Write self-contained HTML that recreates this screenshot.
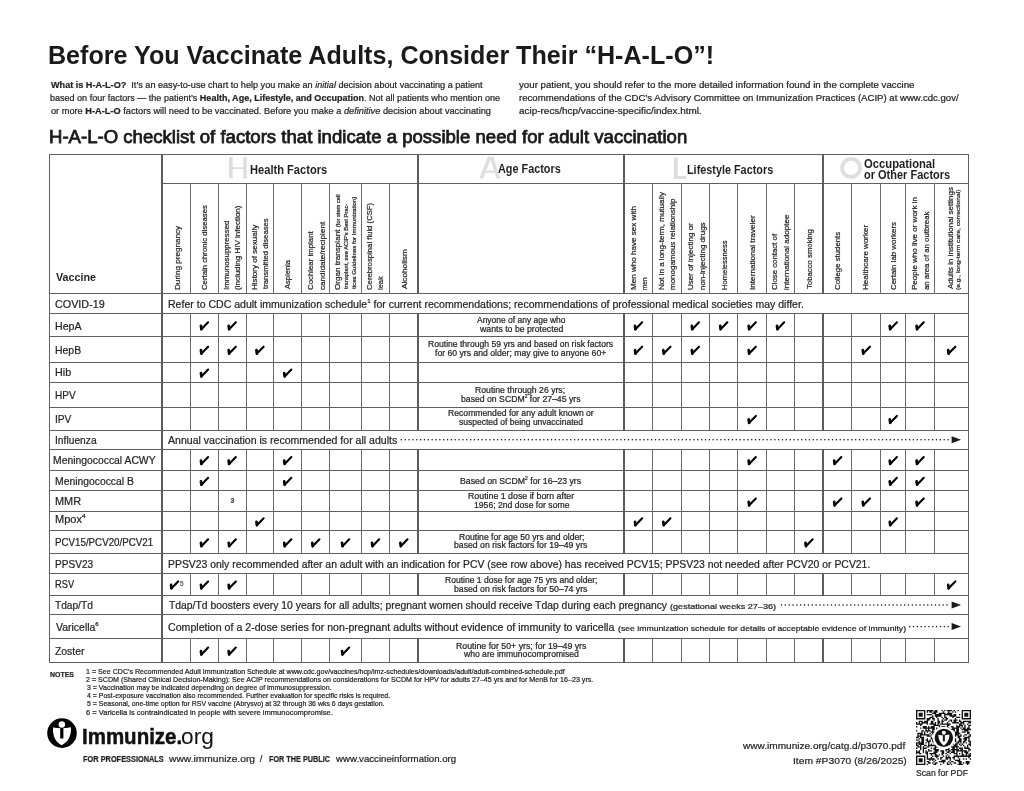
<!DOCTYPE html><html><head><meta charset="utf-8"><title>H-A-L-O</title><style>
*{margin:0;padding:0;box-sizing:border-box}
html,body{width:1024px;height:791px;overflow:hidden;background:#fff}
body{position:relative;font-family:"Liberation Sans",sans-serif;color:#231f20}
.t{position:absolute;white-space:nowrap;transform-origin:0 0}
.t sup{font-size:58%;line-height:0;vertical-align:0;position:relative;top:-0.82em}
.l{position:absolute}
.s{-webkit-text-stroke:0.22px currentColor}
#pg{position:absolute;left:0;top:0;width:1024px;height:791px;filter:blur(0.35px)}
.c{position:absolute;overflow:visible}
.ov{position:absolute;left:0;top:0}
.dots{position:absolute;height:1px;background-image:linear-gradient(90deg,#333 0,#333 1.2px,transparent 1.2px);background-size:3.85px 1px}
</style></head><body><div id="pg">
<svg width="0" height="0" style="position:absolute"><defs>
<g id="ck" fill="none" stroke="#000" stroke-linecap="round" stroke-linejoin="round"><path d="M1.65 5.0 L2.1 8.4" stroke-width="2.7"/><path d="M2.1 8.4 L8.8 1.5" stroke-width="2.1"/></g>
</defs></svg>
<div class="l" style="left:49px;top:154px;width:920px;height:1px;background:#5f5f5f"></div>
<div class="l" style="left:162px;top:183px;width:807px;height:1px;background:#5f5f5f"></div>
<div class="l" style="left:49px;top:293px;width:920px;height:1px;background:#5f5f5f"></div>
<div class="l" style="left:49px;top:313px;width:920px;height:1px;background:#5f5f5f"></div>
<div class="l" style="left:49px;top:336px;width:920px;height:1px;background:#5f5f5f"></div>
<div class="l" style="left:49px;top:362px;width:920px;height:1px;background:#5f5f5f"></div>
<div class="l" style="left:49px;top:382px;width:920px;height:1px;background:#5f5f5f"></div>
<div class="l" style="left:49px;top:407px;width:920px;height:1px;background:#5f5f5f"></div>
<div class="l" style="left:49px;top:430px;width:920px;height:1px;background:#5f5f5f"></div>
<div class="l" style="left:49px;top:449px;width:920px;height:1px;background:#5f5f5f"></div>
<div class="l" style="left:49px;top:470px;width:920px;height:1px;background:#5f5f5f"></div>
<div class="l" style="left:49px;top:490px;width:920px;height:1px;background:#5f5f5f"></div>
<div class="l" style="left:49px;top:511px;width:920px;height:1px;background:#5f5f5f"></div>
<div class="l" style="left:49px;top:530px;width:920px;height:1px;background:#5f5f5f"></div>
<div class="l" style="left:49px;top:553px;width:920px;height:1px;background:#5f5f5f"></div>
<div class="l" style="left:49px;top:573px;width:920px;height:1px;background:#5f5f5f"></div>
<div class="l" style="left:49px;top:595px;width:920px;height:1px;background:#5f5f5f"></div>
<div class="l" style="left:49px;top:614px;width:920px;height:1px;background:#5f5f5f"></div>
<div class="l" style="left:49px;top:638px;width:920px;height:1px;background:#5f5f5f"></div>
<div class="l" style="left:49px;top:662px;width:920px;height:1px;background:#5f5f5f"></div>
<div class="l" style="left:49px;top:154px;width:1px;height:509px;background:#626262"></div>
<div class="l" style="left:968px;top:154px;width:1px;height:509px;background:#5e5e5e"></div>
<div class="l" style="left:161px;top:154px;width:2px;height:509px;background:#5c5c5c"></div>
<div class="l" style="left:417px;top:154px;width:2px;height:140px;background:#5c5c5c"></div>
<div class="l" style="left:417px;top:313px;width:2px;height:24px;background:#5c5c5c"></div>
<div class="l" style="left:417px;top:336px;width:2px;height:27px;background:#5c5c5c"></div>
<div class="l" style="left:417px;top:362px;width:2px;height:21px;background:#5c5c5c"></div>
<div class="l" style="left:417px;top:382px;width:2px;height:26px;background:#5c5c5c"></div>
<div class="l" style="left:417px;top:407px;width:2px;height:24px;background:#5c5c5c"></div>
<div class="l" style="left:417px;top:449px;width:2px;height:22px;background:#5c5c5c"></div>
<div class="l" style="left:417px;top:470px;width:2px;height:21px;background:#5c5c5c"></div>
<div class="l" style="left:417px;top:490px;width:2px;height:22px;background:#5c5c5c"></div>
<div class="l" style="left:417px;top:511px;width:2px;height:20px;background:#5c5c5c"></div>
<div class="l" style="left:417px;top:530px;width:2px;height:24px;background:#5c5c5c"></div>
<div class="l" style="left:417px;top:573px;width:2px;height:23px;background:#5c5c5c"></div>
<div class="l" style="left:417px;top:638px;width:2px;height:25px;background:#5c5c5c"></div>
<div class="l" style="left:623px;top:154px;width:2px;height:140px;background:#5c5c5c"></div>
<div class="l" style="left:623px;top:313px;width:2px;height:24px;background:#5c5c5c"></div>
<div class="l" style="left:623px;top:336px;width:2px;height:27px;background:#5c5c5c"></div>
<div class="l" style="left:623px;top:362px;width:2px;height:21px;background:#5c5c5c"></div>
<div class="l" style="left:623px;top:382px;width:2px;height:26px;background:#5c5c5c"></div>
<div class="l" style="left:623px;top:407px;width:2px;height:24px;background:#5c5c5c"></div>
<div class="l" style="left:623px;top:449px;width:2px;height:22px;background:#5c5c5c"></div>
<div class="l" style="left:623px;top:470px;width:2px;height:21px;background:#5c5c5c"></div>
<div class="l" style="left:623px;top:490px;width:2px;height:22px;background:#5c5c5c"></div>
<div class="l" style="left:623px;top:511px;width:2px;height:20px;background:#5c5c5c"></div>
<div class="l" style="left:623px;top:530px;width:2px;height:24px;background:#5c5c5c"></div>
<div class="l" style="left:623px;top:573px;width:2px;height:23px;background:#5c5c5c"></div>
<div class="l" style="left:623px;top:638px;width:2px;height:25px;background:#5c5c5c"></div>
<div class="l" style="left:822px;top:154px;width:2px;height:140px;background:#5c5c5c"></div>
<div class="l" style="left:822px;top:313px;width:2px;height:24px;background:#5c5c5c"></div>
<div class="l" style="left:822px;top:336px;width:2px;height:27px;background:#5c5c5c"></div>
<div class="l" style="left:822px;top:362px;width:2px;height:21px;background:#5c5c5c"></div>
<div class="l" style="left:822px;top:382px;width:2px;height:26px;background:#5c5c5c"></div>
<div class="l" style="left:822px;top:407px;width:2px;height:24px;background:#5c5c5c"></div>
<div class="l" style="left:822px;top:449px;width:2px;height:22px;background:#5c5c5c"></div>
<div class="l" style="left:822px;top:470px;width:2px;height:21px;background:#5c5c5c"></div>
<div class="l" style="left:822px;top:490px;width:2px;height:22px;background:#5c5c5c"></div>
<div class="l" style="left:822px;top:511px;width:2px;height:20px;background:#5c5c5c"></div>
<div class="l" style="left:822px;top:530px;width:2px;height:24px;background:#5c5c5c"></div>
<div class="l" style="left:822px;top:573px;width:2px;height:23px;background:#5c5c5c"></div>
<div class="l" style="left:822px;top:638px;width:2px;height:25px;background:#5c5c5c"></div>
<div class="l" style="left:190px;top:183px;width:1px;height:111px;background:#6b6b6b"></div>
<div class="l" style="left:190px;top:313px;width:1px;height:24px;background:#6b6b6b"></div>
<div class="l" style="left:190px;top:336px;width:1px;height:27px;background:#6b6b6b"></div>
<div class="l" style="left:190px;top:362px;width:1px;height:21px;background:#6b6b6b"></div>
<div class="l" style="left:190px;top:382px;width:1px;height:26px;background:#6b6b6b"></div>
<div class="l" style="left:190px;top:407px;width:1px;height:24px;background:#6b6b6b"></div>
<div class="l" style="left:190px;top:449px;width:1px;height:22px;background:#6b6b6b"></div>
<div class="l" style="left:190px;top:470px;width:1px;height:21px;background:#6b6b6b"></div>
<div class="l" style="left:190px;top:490px;width:1px;height:22px;background:#6b6b6b"></div>
<div class="l" style="left:190px;top:511px;width:1px;height:20px;background:#6b6b6b"></div>
<div class="l" style="left:190px;top:530px;width:1px;height:24px;background:#6b6b6b"></div>
<div class="l" style="left:190px;top:573px;width:1px;height:23px;background:#6b6b6b"></div>
<div class="l" style="left:190px;top:638px;width:1px;height:25px;background:#6b6b6b"></div>
<div class="l" style="left:218px;top:183px;width:1px;height:111px;background:#6b6b6b"></div>
<div class="l" style="left:218px;top:313px;width:1px;height:24px;background:#6b6b6b"></div>
<div class="l" style="left:218px;top:336px;width:1px;height:27px;background:#6b6b6b"></div>
<div class="l" style="left:218px;top:362px;width:1px;height:21px;background:#6b6b6b"></div>
<div class="l" style="left:218px;top:382px;width:1px;height:26px;background:#6b6b6b"></div>
<div class="l" style="left:218px;top:407px;width:1px;height:24px;background:#6b6b6b"></div>
<div class="l" style="left:218px;top:449px;width:1px;height:22px;background:#6b6b6b"></div>
<div class="l" style="left:218px;top:470px;width:1px;height:21px;background:#6b6b6b"></div>
<div class="l" style="left:218px;top:490px;width:1px;height:22px;background:#6b6b6b"></div>
<div class="l" style="left:218px;top:511px;width:1px;height:20px;background:#6b6b6b"></div>
<div class="l" style="left:218px;top:530px;width:1px;height:24px;background:#6b6b6b"></div>
<div class="l" style="left:218px;top:573px;width:1px;height:23px;background:#6b6b6b"></div>
<div class="l" style="left:218px;top:638px;width:1px;height:25px;background:#6b6b6b"></div>
<div class="l" style="left:246px;top:183px;width:1px;height:111px;background:#6b6b6b"></div>
<div class="l" style="left:246px;top:313px;width:1px;height:24px;background:#6b6b6b"></div>
<div class="l" style="left:246px;top:336px;width:1px;height:27px;background:#6b6b6b"></div>
<div class="l" style="left:246px;top:362px;width:1px;height:21px;background:#6b6b6b"></div>
<div class="l" style="left:246px;top:382px;width:1px;height:26px;background:#6b6b6b"></div>
<div class="l" style="left:246px;top:407px;width:1px;height:24px;background:#6b6b6b"></div>
<div class="l" style="left:246px;top:449px;width:1px;height:22px;background:#6b6b6b"></div>
<div class="l" style="left:246px;top:470px;width:1px;height:21px;background:#6b6b6b"></div>
<div class="l" style="left:246px;top:490px;width:1px;height:22px;background:#6b6b6b"></div>
<div class="l" style="left:246px;top:511px;width:1px;height:20px;background:#6b6b6b"></div>
<div class="l" style="left:246px;top:530px;width:1px;height:24px;background:#6b6b6b"></div>
<div class="l" style="left:246px;top:573px;width:1px;height:23px;background:#6b6b6b"></div>
<div class="l" style="left:246px;top:638px;width:1px;height:25px;background:#6b6b6b"></div>
<div class="l" style="left:273px;top:183px;width:1px;height:111px;background:#6b6b6b"></div>
<div class="l" style="left:273px;top:313px;width:1px;height:24px;background:#6b6b6b"></div>
<div class="l" style="left:273px;top:336px;width:1px;height:27px;background:#6b6b6b"></div>
<div class="l" style="left:273px;top:362px;width:1px;height:21px;background:#6b6b6b"></div>
<div class="l" style="left:273px;top:382px;width:1px;height:26px;background:#6b6b6b"></div>
<div class="l" style="left:273px;top:407px;width:1px;height:24px;background:#6b6b6b"></div>
<div class="l" style="left:273px;top:449px;width:1px;height:22px;background:#6b6b6b"></div>
<div class="l" style="left:273px;top:470px;width:1px;height:21px;background:#6b6b6b"></div>
<div class="l" style="left:273px;top:490px;width:1px;height:22px;background:#6b6b6b"></div>
<div class="l" style="left:273px;top:511px;width:1px;height:20px;background:#6b6b6b"></div>
<div class="l" style="left:273px;top:530px;width:1px;height:24px;background:#6b6b6b"></div>
<div class="l" style="left:273px;top:573px;width:1px;height:23px;background:#6b6b6b"></div>
<div class="l" style="left:273px;top:638px;width:1px;height:25px;background:#6b6b6b"></div>
<div class="l" style="left:301px;top:183px;width:1px;height:111px;background:#6b6b6b"></div>
<div class="l" style="left:301px;top:313px;width:1px;height:24px;background:#6b6b6b"></div>
<div class="l" style="left:301px;top:336px;width:1px;height:27px;background:#6b6b6b"></div>
<div class="l" style="left:301px;top:362px;width:1px;height:21px;background:#6b6b6b"></div>
<div class="l" style="left:301px;top:382px;width:1px;height:26px;background:#6b6b6b"></div>
<div class="l" style="left:301px;top:407px;width:1px;height:24px;background:#6b6b6b"></div>
<div class="l" style="left:301px;top:449px;width:1px;height:22px;background:#6b6b6b"></div>
<div class="l" style="left:301px;top:470px;width:1px;height:21px;background:#6b6b6b"></div>
<div class="l" style="left:301px;top:490px;width:1px;height:22px;background:#6b6b6b"></div>
<div class="l" style="left:301px;top:511px;width:1px;height:20px;background:#6b6b6b"></div>
<div class="l" style="left:301px;top:530px;width:1px;height:24px;background:#6b6b6b"></div>
<div class="l" style="left:301px;top:573px;width:1px;height:23px;background:#6b6b6b"></div>
<div class="l" style="left:301px;top:638px;width:1px;height:25px;background:#6b6b6b"></div>
<div class="l" style="left:329px;top:183px;width:1px;height:111px;background:#6b6b6b"></div>
<div class="l" style="left:329px;top:313px;width:1px;height:24px;background:#6b6b6b"></div>
<div class="l" style="left:329px;top:336px;width:1px;height:27px;background:#6b6b6b"></div>
<div class="l" style="left:329px;top:362px;width:1px;height:21px;background:#6b6b6b"></div>
<div class="l" style="left:329px;top:382px;width:1px;height:26px;background:#6b6b6b"></div>
<div class="l" style="left:329px;top:407px;width:1px;height:24px;background:#6b6b6b"></div>
<div class="l" style="left:329px;top:449px;width:1px;height:22px;background:#6b6b6b"></div>
<div class="l" style="left:329px;top:470px;width:1px;height:21px;background:#6b6b6b"></div>
<div class="l" style="left:329px;top:490px;width:1px;height:22px;background:#6b6b6b"></div>
<div class="l" style="left:329px;top:511px;width:1px;height:20px;background:#6b6b6b"></div>
<div class="l" style="left:329px;top:530px;width:1px;height:24px;background:#6b6b6b"></div>
<div class="l" style="left:329px;top:573px;width:1px;height:23px;background:#6b6b6b"></div>
<div class="l" style="left:329px;top:638px;width:1px;height:25px;background:#6b6b6b"></div>
<div class="l" style="left:361px;top:183px;width:1px;height:111px;background:#6b6b6b"></div>
<div class="l" style="left:361px;top:313px;width:1px;height:24px;background:#6b6b6b"></div>
<div class="l" style="left:361px;top:336px;width:1px;height:27px;background:#6b6b6b"></div>
<div class="l" style="left:361px;top:362px;width:1px;height:21px;background:#6b6b6b"></div>
<div class="l" style="left:361px;top:382px;width:1px;height:26px;background:#6b6b6b"></div>
<div class="l" style="left:361px;top:407px;width:1px;height:24px;background:#6b6b6b"></div>
<div class="l" style="left:361px;top:449px;width:1px;height:22px;background:#6b6b6b"></div>
<div class="l" style="left:361px;top:470px;width:1px;height:21px;background:#6b6b6b"></div>
<div class="l" style="left:361px;top:490px;width:1px;height:22px;background:#6b6b6b"></div>
<div class="l" style="left:361px;top:511px;width:1px;height:20px;background:#6b6b6b"></div>
<div class="l" style="left:361px;top:530px;width:1px;height:24px;background:#6b6b6b"></div>
<div class="l" style="left:361px;top:573px;width:1px;height:23px;background:#6b6b6b"></div>
<div class="l" style="left:361px;top:638px;width:1px;height:25px;background:#6b6b6b"></div>
<div class="l" style="left:389px;top:183px;width:1px;height:111px;background:#6b6b6b"></div>
<div class="l" style="left:389px;top:313px;width:1px;height:24px;background:#6b6b6b"></div>
<div class="l" style="left:389px;top:336px;width:1px;height:27px;background:#6b6b6b"></div>
<div class="l" style="left:389px;top:362px;width:1px;height:21px;background:#6b6b6b"></div>
<div class="l" style="left:389px;top:382px;width:1px;height:26px;background:#6b6b6b"></div>
<div class="l" style="left:389px;top:407px;width:1px;height:24px;background:#6b6b6b"></div>
<div class="l" style="left:389px;top:449px;width:1px;height:22px;background:#6b6b6b"></div>
<div class="l" style="left:389px;top:470px;width:1px;height:21px;background:#6b6b6b"></div>
<div class="l" style="left:389px;top:490px;width:1px;height:22px;background:#6b6b6b"></div>
<div class="l" style="left:389px;top:511px;width:1px;height:20px;background:#6b6b6b"></div>
<div class="l" style="left:389px;top:530px;width:1px;height:24px;background:#6b6b6b"></div>
<div class="l" style="left:389px;top:573px;width:1px;height:23px;background:#6b6b6b"></div>
<div class="l" style="left:389px;top:638px;width:1px;height:25px;background:#6b6b6b"></div>
<div class="l" style="left:652px;top:183px;width:1px;height:111px;background:#6b6b6b"></div>
<div class="l" style="left:652px;top:313px;width:1px;height:24px;background:#6b6b6b"></div>
<div class="l" style="left:652px;top:336px;width:1px;height:27px;background:#6b6b6b"></div>
<div class="l" style="left:652px;top:362px;width:1px;height:21px;background:#6b6b6b"></div>
<div class="l" style="left:652px;top:382px;width:1px;height:26px;background:#6b6b6b"></div>
<div class="l" style="left:652px;top:407px;width:1px;height:24px;background:#6b6b6b"></div>
<div class="l" style="left:652px;top:449px;width:1px;height:22px;background:#6b6b6b"></div>
<div class="l" style="left:652px;top:470px;width:1px;height:21px;background:#6b6b6b"></div>
<div class="l" style="left:652px;top:490px;width:1px;height:22px;background:#6b6b6b"></div>
<div class="l" style="left:652px;top:511px;width:1px;height:20px;background:#6b6b6b"></div>
<div class="l" style="left:652px;top:530px;width:1px;height:24px;background:#6b6b6b"></div>
<div class="l" style="left:652px;top:573px;width:1px;height:23px;background:#6b6b6b"></div>
<div class="l" style="left:652px;top:638px;width:1px;height:25px;background:#6b6b6b"></div>
<div class="l" style="left:681px;top:183px;width:1px;height:111px;background:#6b6b6b"></div>
<div class="l" style="left:681px;top:313px;width:1px;height:24px;background:#6b6b6b"></div>
<div class="l" style="left:681px;top:336px;width:1px;height:27px;background:#6b6b6b"></div>
<div class="l" style="left:681px;top:362px;width:1px;height:21px;background:#6b6b6b"></div>
<div class="l" style="left:681px;top:382px;width:1px;height:26px;background:#6b6b6b"></div>
<div class="l" style="left:681px;top:407px;width:1px;height:24px;background:#6b6b6b"></div>
<div class="l" style="left:681px;top:449px;width:1px;height:22px;background:#6b6b6b"></div>
<div class="l" style="left:681px;top:470px;width:1px;height:21px;background:#6b6b6b"></div>
<div class="l" style="left:681px;top:490px;width:1px;height:22px;background:#6b6b6b"></div>
<div class="l" style="left:681px;top:511px;width:1px;height:20px;background:#6b6b6b"></div>
<div class="l" style="left:681px;top:530px;width:1px;height:24px;background:#6b6b6b"></div>
<div class="l" style="left:681px;top:573px;width:1px;height:23px;background:#6b6b6b"></div>
<div class="l" style="left:681px;top:638px;width:1px;height:25px;background:#6b6b6b"></div>
<div class="l" style="left:709px;top:183px;width:1px;height:111px;background:#6b6b6b"></div>
<div class="l" style="left:709px;top:313px;width:1px;height:24px;background:#6b6b6b"></div>
<div class="l" style="left:709px;top:336px;width:1px;height:27px;background:#6b6b6b"></div>
<div class="l" style="left:709px;top:362px;width:1px;height:21px;background:#6b6b6b"></div>
<div class="l" style="left:709px;top:382px;width:1px;height:26px;background:#6b6b6b"></div>
<div class="l" style="left:709px;top:407px;width:1px;height:24px;background:#6b6b6b"></div>
<div class="l" style="left:709px;top:449px;width:1px;height:22px;background:#6b6b6b"></div>
<div class="l" style="left:709px;top:470px;width:1px;height:21px;background:#6b6b6b"></div>
<div class="l" style="left:709px;top:490px;width:1px;height:22px;background:#6b6b6b"></div>
<div class="l" style="left:709px;top:511px;width:1px;height:20px;background:#6b6b6b"></div>
<div class="l" style="left:709px;top:530px;width:1px;height:24px;background:#6b6b6b"></div>
<div class="l" style="left:709px;top:573px;width:1px;height:23px;background:#6b6b6b"></div>
<div class="l" style="left:709px;top:638px;width:1px;height:25px;background:#6b6b6b"></div>
<div class="l" style="left:737px;top:183px;width:1px;height:111px;background:#6b6b6b"></div>
<div class="l" style="left:737px;top:313px;width:1px;height:24px;background:#6b6b6b"></div>
<div class="l" style="left:737px;top:336px;width:1px;height:27px;background:#6b6b6b"></div>
<div class="l" style="left:737px;top:362px;width:1px;height:21px;background:#6b6b6b"></div>
<div class="l" style="left:737px;top:382px;width:1px;height:26px;background:#6b6b6b"></div>
<div class="l" style="left:737px;top:407px;width:1px;height:24px;background:#6b6b6b"></div>
<div class="l" style="left:737px;top:449px;width:1px;height:22px;background:#6b6b6b"></div>
<div class="l" style="left:737px;top:470px;width:1px;height:21px;background:#6b6b6b"></div>
<div class="l" style="left:737px;top:490px;width:1px;height:22px;background:#6b6b6b"></div>
<div class="l" style="left:737px;top:511px;width:1px;height:20px;background:#6b6b6b"></div>
<div class="l" style="left:737px;top:530px;width:1px;height:24px;background:#6b6b6b"></div>
<div class="l" style="left:737px;top:573px;width:1px;height:23px;background:#6b6b6b"></div>
<div class="l" style="left:737px;top:638px;width:1px;height:25px;background:#6b6b6b"></div>
<div class="l" style="left:766px;top:183px;width:1px;height:111px;background:#6b6b6b"></div>
<div class="l" style="left:766px;top:313px;width:1px;height:24px;background:#6b6b6b"></div>
<div class="l" style="left:766px;top:336px;width:1px;height:27px;background:#6b6b6b"></div>
<div class="l" style="left:766px;top:362px;width:1px;height:21px;background:#6b6b6b"></div>
<div class="l" style="left:766px;top:382px;width:1px;height:26px;background:#6b6b6b"></div>
<div class="l" style="left:766px;top:407px;width:1px;height:24px;background:#6b6b6b"></div>
<div class="l" style="left:766px;top:449px;width:1px;height:22px;background:#6b6b6b"></div>
<div class="l" style="left:766px;top:470px;width:1px;height:21px;background:#6b6b6b"></div>
<div class="l" style="left:766px;top:490px;width:1px;height:22px;background:#6b6b6b"></div>
<div class="l" style="left:766px;top:511px;width:1px;height:20px;background:#6b6b6b"></div>
<div class="l" style="left:766px;top:530px;width:1px;height:24px;background:#6b6b6b"></div>
<div class="l" style="left:766px;top:573px;width:1px;height:23px;background:#6b6b6b"></div>
<div class="l" style="left:766px;top:638px;width:1px;height:25px;background:#6b6b6b"></div>
<div class="l" style="left:794px;top:183px;width:1px;height:111px;background:#6b6b6b"></div>
<div class="l" style="left:794px;top:313px;width:1px;height:24px;background:#6b6b6b"></div>
<div class="l" style="left:794px;top:336px;width:1px;height:27px;background:#6b6b6b"></div>
<div class="l" style="left:794px;top:362px;width:1px;height:21px;background:#6b6b6b"></div>
<div class="l" style="left:794px;top:382px;width:1px;height:26px;background:#6b6b6b"></div>
<div class="l" style="left:794px;top:407px;width:1px;height:24px;background:#6b6b6b"></div>
<div class="l" style="left:794px;top:449px;width:1px;height:22px;background:#6b6b6b"></div>
<div class="l" style="left:794px;top:470px;width:1px;height:21px;background:#6b6b6b"></div>
<div class="l" style="left:794px;top:490px;width:1px;height:22px;background:#6b6b6b"></div>
<div class="l" style="left:794px;top:511px;width:1px;height:20px;background:#6b6b6b"></div>
<div class="l" style="left:794px;top:530px;width:1px;height:24px;background:#6b6b6b"></div>
<div class="l" style="left:794px;top:573px;width:1px;height:23px;background:#6b6b6b"></div>
<div class="l" style="left:794px;top:638px;width:1px;height:25px;background:#6b6b6b"></div>
<div class="l" style="left:851px;top:183px;width:1px;height:111px;background:#6b6b6b"></div>
<div class="l" style="left:851px;top:313px;width:1px;height:24px;background:#6b6b6b"></div>
<div class="l" style="left:851px;top:336px;width:1px;height:27px;background:#6b6b6b"></div>
<div class="l" style="left:851px;top:362px;width:1px;height:21px;background:#6b6b6b"></div>
<div class="l" style="left:851px;top:382px;width:1px;height:26px;background:#6b6b6b"></div>
<div class="l" style="left:851px;top:407px;width:1px;height:24px;background:#6b6b6b"></div>
<div class="l" style="left:851px;top:449px;width:1px;height:22px;background:#6b6b6b"></div>
<div class="l" style="left:851px;top:470px;width:1px;height:21px;background:#6b6b6b"></div>
<div class="l" style="left:851px;top:490px;width:1px;height:22px;background:#6b6b6b"></div>
<div class="l" style="left:851px;top:511px;width:1px;height:20px;background:#6b6b6b"></div>
<div class="l" style="left:851px;top:530px;width:1px;height:24px;background:#6b6b6b"></div>
<div class="l" style="left:851px;top:573px;width:1px;height:23px;background:#6b6b6b"></div>
<div class="l" style="left:851px;top:638px;width:1px;height:25px;background:#6b6b6b"></div>
<div class="l" style="left:880px;top:183px;width:1px;height:111px;background:#6b6b6b"></div>
<div class="l" style="left:880px;top:313px;width:1px;height:24px;background:#6b6b6b"></div>
<div class="l" style="left:880px;top:336px;width:1px;height:27px;background:#6b6b6b"></div>
<div class="l" style="left:880px;top:362px;width:1px;height:21px;background:#6b6b6b"></div>
<div class="l" style="left:880px;top:382px;width:1px;height:26px;background:#6b6b6b"></div>
<div class="l" style="left:880px;top:407px;width:1px;height:24px;background:#6b6b6b"></div>
<div class="l" style="left:880px;top:449px;width:1px;height:22px;background:#6b6b6b"></div>
<div class="l" style="left:880px;top:470px;width:1px;height:21px;background:#6b6b6b"></div>
<div class="l" style="left:880px;top:490px;width:1px;height:22px;background:#6b6b6b"></div>
<div class="l" style="left:880px;top:511px;width:1px;height:20px;background:#6b6b6b"></div>
<div class="l" style="left:880px;top:530px;width:1px;height:24px;background:#6b6b6b"></div>
<div class="l" style="left:880px;top:573px;width:1px;height:23px;background:#6b6b6b"></div>
<div class="l" style="left:880px;top:638px;width:1px;height:25px;background:#6b6b6b"></div>
<div class="l" style="left:905px;top:183px;width:1px;height:111px;background:#6b6b6b"></div>
<div class="l" style="left:905px;top:313px;width:1px;height:24px;background:#6b6b6b"></div>
<div class="l" style="left:905px;top:336px;width:1px;height:27px;background:#6b6b6b"></div>
<div class="l" style="left:905px;top:362px;width:1px;height:21px;background:#6b6b6b"></div>
<div class="l" style="left:905px;top:382px;width:1px;height:26px;background:#6b6b6b"></div>
<div class="l" style="left:905px;top:407px;width:1px;height:24px;background:#6b6b6b"></div>
<div class="l" style="left:905px;top:449px;width:1px;height:22px;background:#6b6b6b"></div>
<div class="l" style="left:905px;top:470px;width:1px;height:21px;background:#6b6b6b"></div>
<div class="l" style="left:905px;top:490px;width:1px;height:22px;background:#6b6b6b"></div>
<div class="l" style="left:905px;top:511px;width:1px;height:20px;background:#6b6b6b"></div>
<div class="l" style="left:905px;top:530px;width:1px;height:24px;background:#6b6b6b"></div>
<div class="l" style="left:905px;top:573px;width:1px;height:23px;background:#6b6b6b"></div>
<div class="l" style="left:905px;top:638px;width:1px;height:25px;background:#6b6b6b"></div>
<div class="l" style="left:934px;top:183px;width:1px;height:111px;background:#6b6b6b"></div>
<div class="l" style="left:934px;top:313px;width:1px;height:24px;background:#6b6b6b"></div>
<div class="l" style="left:934px;top:336px;width:1px;height:27px;background:#6b6b6b"></div>
<div class="l" style="left:934px;top:362px;width:1px;height:21px;background:#6b6b6b"></div>
<div class="l" style="left:934px;top:382px;width:1px;height:26px;background:#6b6b6b"></div>
<div class="l" style="left:934px;top:407px;width:1px;height:24px;background:#6b6b6b"></div>
<div class="l" style="left:934px;top:449px;width:1px;height:22px;background:#6b6b6b"></div>
<div class="l" style="left:934px;top:470px;width:1px;height:21px;background:#6b6b6b"></div>
<div class="l" style="left:934px;top:490px;width:1px;height:22px;background:#6b6b6b"></div>
<div class="l" style="left:934px;top:511px;width:1px;height:20px;background:#6b6b6b"></div>
<div class="l" style="left:934px;top:530px;width:1px;height:24px;background:#6b6b6b"></div>
<div class="l" style="left:934px;top:573px;width:1px;height:23px;background:#6b6b6b"></div>
<div class="l" style="left:934px;top:638px;width:1px;height:25px;background:#6b6b6b"></div>
<svg class="ov" width="1024" height="791" viewBox="0 0 1024 791"><g fill="#dedede">
<path d="M229 157h3.7v10.3h10.6v-10.3h3.5v21.4h-3.5v-9.5h-10.6v9.5h-3.7z"/>
<path fill-rule="evenodd" d="M479.3 178.6L487.9 156.8L493.3 156.8L500.3 178.6L496.6 178.6L494.7 172.7L485.4 172.7L483.1 178.6Z M486.25 170.6L490.5 159.7L494.0 170.6Z"/>
<path d="M673.8 157.2h4v18.9h8.4v2.9h-12.4z"/>
</g><circle cx="851.1" cy="167.9" r="8.95" fill="none" stroke="#dedede" stroke-width="3.8"/></svg>
<div class="t" id="t0" style="font-size:26.4px;line-height:26.4px;font-weight:bold;color:#1a1a1a;left:47.92px;top:42px;transform:scaleX(0.9510);">Before You Vaccinate Adults, Consider Their &ldquo;H-A-L-O&rdquo;!</div>
<div class="t s" id="t1" style="font-size:9px;line-height:9px;left:50.89px;top:81px;transform:scaleX(1.0106);"><b>What is H-A-L-O?</b>&nbsp; It&rsquo;s an easy-to-use chart to help you make an <i>initial</i> decision about vaccinating a patient</div>
<div class="t s" id="t2" style="font-size:9px;line-height:9px;left:50.42px;top:94px;transform:scaleX(1.0028);">based on four factors &mdash; the patient&rsquo;s <b>Health, Age, Lifestyle, and Occupation</b>. Not all patients who mention one</div>
<div class="t s" id="t3" style="font-size:9px;line-height:9px;left:50.51px;top:107px;transform:scaleX(1.0238);">or more <b>H-A-L-O</b> factors will need to be vaccinated. Before you make a <i>definitive</i> decision about vaccinating</div>
<div class="t s" id="t4" style="font-size:9px;line-height:9px;left:519.48px;top:81px;transform:scaleX(1.0769);">your patient, you should refer to the more detailed information found in the complete vaccine</div>
<div class="t s" id="t5" style="font-size:9px;line-height:9px;left:518.86px;top:94px;transform:scaleX(1.0658);">recommendations of the CDC&rsquo;s Advisory Committee on Immunization Practices (ACIP) at www.cdc.gov/</div>
<div class="t s" id="t6" style="font-size:9px;line-height:9px;left:519.08px;top:107px;transform:scaleX(1.1042);">acip-recs/hcp/vaccine-specific/index.html.</div>
<div class="t" id="t7" style="font-size:17.6px;line-height:17.6px;color:#1a1a1a;left:48.68px;top:129px;transform:scaleX(1.0560);-webkit-text-stroke:0.75px #1a1a1a;">H-A-L-O checklist of factors that indicate a possible need for adult vaccination</div>
<div class="t" id="t8" style="font-size:12.4px;line-height:12.4px;font-weight:bold;left:249.86px;top:164px;transform:scaleX(0.8969);">Health Factors</div>
<div class="t" id="t9" style="font-size:12.4px;line-height:12.4px;font-weight:bold;left:498.03px;top:163px;transform:scaleX(0.8758);">Age Factors</div>
<div class="t" id="t10" style="font-size:12.4px;line-height:12.4px;font-weight:bold;left:687.47px;top:164px;transform:scaleX(0.8750);">Lifestyle Factors</div>
<div class="t" id="t11" style="font-size:12.4px;line-height:12.4px;font-weight:bold;left:864.14px;top:158px;transform:scaleX(0.9078);">Occupational</div>
<div class="t" id="t12" style="font-size:12.4px;line-height:12.4px;font-weight:bold;left:864.17px;top:169px;transform:scaleX(0.8876);">or Other Factors</div>
<div class="t" id="t13" style="font-size:11.6px;line-height:11.6px;font-weight:bold;left:55.53px;top:271px;transform:scaleX(0.9271);">Vaccine</div>
<div class="t s" id="t14" style="font-size:7.9px;line-height:7.9px;left:173.51px;top:289.97px;transform:rotate(-90deg) scaleX(1.0287);">During pregnancy</div>
<div class="t s" id="t15" style="font-size:7.9px;line-height:7.9px;left:200.91px;top:289.69px;transform:rotate(-90deg) scaleX(0.9823);">Certain chronic diseases</div>
<div class="t s" id="t16" style="font-size:7.9px;line-height:7.9px;left:222.71px;top:290.03px;transform:rotate(-90deg) scaleX(1.0018);">Immunosuppressed</div>
<div class="t s" id="t17" style="font-size:7.9px;line-height:7.9px;left:233.91px;top:289.8px;transform:rotate(-90deg) scaleX(1.0138);">(including HIV infection)</div>
<div class="t s" id="t18" style="font-size:7.9px;line-height:7.9px;left:250.91px;top:289.96px;transform:rotate(-90deg) scaleX(1.0210);">History of sexually</div>
<div class="t s" id="t19" style="font-size:7.9px;line-height:7.9px;left:262.31px;top:289.42px;transform:rotate(-90deg) scaleX(0.9768);">transmitted diseases</div>
<div class="t s" id="t20" style="font-size:7.9px;line-height:7.9px;left:284.21px;top:289.31px;transform:rotate(-90deg) scaleX(0.9582);">Asplenia</div>
<div class="t s" id="t21" style="font-size:7.9px;line-height:7.9px;left:306.91px;top:289.7px;transform:rotate(-90deg) scaleX(0.9922);">Cochlear implant</div>
<div class="t s" id="t22" style="font-size:7.9px;line-height:7.9px;left:318.61px;top:289.65px;transform:rotate(-90deg) scaleX(1.0295);">candidate/recipient</div>
<div class="t s" id="t23" style="font-size:7.9px;line-height:7.9px;left:334.21px;top:289.68px;transform:rotate(-90deg) scaleX(1.0284);">Organ transplant <span style="font-size:5.6px">(for stem cell</span></div>
<div class="t s" id="t24" style="font-size:5.6px;line-height:5.6px;left:343.86px;top:289.39px;transform:rotate(-90deg) scaleX(1.0319);">transplant, see ACIP&rsquo;s Best Prac-</div>
<div class="t s" id="t25" style="font-size:5.6px;line-height:5.6px;left:352.16px;top:289.39px;transform:rotate(-90deg) scaleX(1.0962);">tices Guidelines for Immunization)</div>
<div class="t s" id="t26" style="font-size:7.9px;line-height:7.9px;left:365.51px;top:289.69px;transform:rotate(-90deg) scaleX(0.9791);">Cerebrospinal fluid (CSF)</div>
<div class="t s" id="t27" style="font-size:7.9px;line-height:7.9px;left:376.71px;top:289.81px;transform:rotate(-90deg) scaleX(0.9525);">leak</div>
<div class="t s" id="t28" style="font-size:7.9px;line-height:7.9px;left:401.41px;top:289.32px;transform:rotate(-90deg) scaleX(1.0420);">Alcoholism</div>
<div class="t s" id="t29" style="font-size:7.9px;line-height:7.9px;left:629.61px;top:289.96px;transform:rotate(-90deg) scaleX(1.0241);">Men who have sex with</div>
<div class="t s" id="t30" style="font-size:7.9px;line-height:7.9px;left:640.71px;top:289.73px;transform:rotate(-90deg) scaleX(0.8169);">men</div>
<div class="t s" id="t31" style="font-size:7.9px;line-height:7.9px;left:658.41px;top:289.96px;transform:rotate(-90deg) scaleX(1.0165);">Not in a long-term, mutually</div>
<div class="t s" id="t32" style="font-size:7.9px;line-height:7.9px;left:669.21px;top:289.83px;transform:rotate(-90deg) scaleX(1.0111);">monogamous relationship</div>
<div class="t s" id="t33" style="font-size:7.9px;line-height:7.9px;left:687.31px;top:289.92px;transform:rotate(-90deg) scaleX(1.0160);">User of injecting or</div>
<div class="t s" id="t34" style="font-size:7.9px;line-height:7.9px;left:699.11px;top:289.83px;transform:rotate(-90deg) scaleX(1.0140);">non-injecting drugs</div>
<div class="t s" id="t35" style="font-size:7.9px;line-height:7.9px;left:721.41px;top:289.92px;transform:rotate(-90deg) scaleX(0.9584);">Homelessness</div>
<div class="t s" id="t36" style="font-size:7.9px;line-height:7.9px;left:748.81px;top:290.06px;transform:rotate(-90deg) scaleX(1.0383);">International traveler</div>
<div class="t s" id="t37" style="font-size:7.9px;line-height:7.9px;left:771.01px;top:289.7px;transform:rotate(-90deg) scaleX(0.9910);">Close contact of</div>
<div class="t s" id="t38" style="font-size:7.9px;line-height:7.9px;left:782.81px;top:289.84px;transform:rotate(-90deg) scaleX(1.0228);">international adoptee</div>
<div class="t s" id="t39" style="font-size:7.9px;line-height:7.9px;left:805.81px;top:289.47px;transform:rotate(-90deg) scaleX(0.9820);">Tobacco smoking</div>
<div class="t s" id="t40" style="font-size:7.9px;line-height:7.9px;left:834.31px;top:289.7px;transform:rotate(-90deg) scaleX(0.9898);">College students</div>
<div class="t s" id="t41" style="font-size:7.9px;line-height:7.9px;left:861.81px;top:289.96px;transform:rotate(-90deg) scaleX(1.0181);">Healthcare worker</div>
<div class="t s" id="t42" style="font-size:7.9px;line-height:7.9px;left:890.21px;top:289.7px;transform:rotate(-90deg);">Certain lab workers</div>
<div class="t s" id="t43" style="font-size:7.9px;line-height:7.9px;left:910.71px;top:289.96px;transform:rotate(-90deg) scaleX(1.0142);">People who live or work in</div>
<div class="t s" id="t44" style="font-size:7.9px;line-height:7.9px;left:922.51px;top:289.63px;transform:rotate(-90deg) scaleX(0.9876);">an area of an outbreak</div>
<div class="t s" id="t45" style="font-size:7.9px;line-height:7.9px;left:947.01px;top:289.32px;transform:rotate(-90deg) scaleX(1.0057);">Adults in institutional settings</div>
<div class="t s" id="t46" style="font-size:6px;line-height:6px;left:955.42px;top:289.71px;transform:rotate(-90deg) scaleX(1.1112);">(e.g., long-term care, correctional)</div>
<div class="t s" id="t47" style="font-size:10.6px;line-height:10.6px;left:55.05px;top:299px;transform:scaleX(1.0181);">COVID-19</div>
<div class="t s" id="t48" style="font-size:10.6px;line-height:10.6px;left:54.73px;top:321px;transform:scaleX(1.0035);">HepA</div>
<div class="t s" id="t49" style="font-size:10.6px;line-height:10.6px;left:54.74px;top:345px;transform:scaleX(0.9852);">HepB</div>
<div class="t s" id="t50" style="font-size:10.6px;line-height:10.6px;left:54.72px;top:367px;transform:scaleX(1.0143);">Hib</div>
<div class="t s" id="t51" style="font-size:10.6px;line-height:10.6px;left:54.78px;top:390px;transform:scaleX(0.9482);">HPV</div>
<div class="t s" id="t52" style="font-size:10.6px;line-height:10.6px;left:54.66px;top:414px;transform:scaleX(0.9593);">IPV</div>
<div class="t s" id="t53" style="font-size:10.6px;line-height:10.6px;left:54.65px;top:435px;transform:scaleX(0.9685);">Influenza</div>
<div class="t s" id="t54" style="font-size:10.6px;line-height:10.6px;left:53.25px;top:455px;transform:scaleX(0.9787);">Meningococcal ACWY</div>
<div class="t s" id="t55" style="font-size:10.6px;line-height:10.6px;left:54.95px;top:476px;transform:scaleX(0.9778);">Meningococcal B</div>
<div class="t s" id="t56" style="font-size:10.6px;line-height:10.6px;left:54.9px;top:496px;transform:scaleX(1.0313);">MMR</div>
<div class="t s" id="t57" style="font-size:10.6px;line-height:10.6px;left:54.9px;top:514px;transform:scaleX(1.0408);">Mpox<sup>4</sup></div>
<div class="t s" id="t58" style="font-size:10.6px;line-height:10.6px;left:54.6px;top:537px;transform:scaleX(0.9201);">PCV15/PCV20/PCV21</div>
<div class="t s" id="t59" style="font-size:10.6px;line-height:10.6px;left:54.77px;top:559px;transform:scaleX(0.9528);">PPSV23</div>
<div class="t s" id="t60" style="font-size:10.6px;line-height:10.6px;left:54.83px;top:579px;transform:scaleX(0.8812);">RSV</div>
<div class="t s" id="t61" style="font-size:10.6px;line-height:10.6px;left:55.37px;top:600px;transform:scaleX(0.9576);">Tdap/Td</div>
<div class="t s" id="t62" style="font-size:10.6px;line-height:10.6px;left:55.55px;top:622px;transform:scaleX(0.9880);">Varicella<sup>6</sup></div>
<div class="t s" id="t63" style="font-size:10.6px;line-height:10.6px;left:55.27px;top:646px;transform:scaleX(0.9790);">Zoster</div>
<div class="t s" id="t64" style="font-size:10.6px;line-height:10.6px;left:167.93px;top:299px;transform:scaleX(0.9948);">Refer to CDC adult immunization schedule<sup>1</sup> for current recommendations; recommendations of professional medical societies may differ.</div>
<div class="t s" id="t65" style="font-size:10.6px;line-height:10.6px;left:168.48px;top:435px;transform:scaleX(0.9954);">Annual vaccination is recommended for all adults</div>
<div class="t s" id="t66" style="font-size:10.6px;line-height:10.6px;left:168.05px;top:559px;transform:scaleX(0.9824);">PPSV23 only recommended after an adult with an indication for PCV (see row above) has received PCV15; PPSV23 not needed after PCV20 or PCV21.</div>
<div class="t s" id="t67" style="font-size:10.6px;line-height:10.6px;left:168.67px;top:600px;transform:scaleX(0.9781);">Tdap/Td boosters every 10 years for all adults; pregnant women should receive Tdap during each pregnancy</div>
<div class="t s" id="t68" style="font-size:7.6px;line-height:7.6px;left:669.94px;top:603px;transform:scaleX(1.1971);">(gestational weeks 27&ndash;36)</div>
<div class="t s" id="t69" style="font-size:10.6px;line-height:10.6px;left:168.36px;top:622px;transform:scaleX(1.0013);">Completion of a 2-dose series for non-pregnant adults without evidence of immunity to varicella</div>
<div class="t s" id="t70" style="font-size:7.6px;line-height:7.6px;left:617.66px;top:625px;transform:scaleX(1.1412);">(see immunization schedule for details of acceptable evidence of immunity)</div>
<div class="t s" id="t71" style="font-size:8.2px;line-height:8.2px;left:477.28px;top:317px;transform:scaleX(1.0338);">Anyone of any age who</div>
<div class="t s" id="t72" style="font-size:8.2px;line-height:8.2px;left:480.11px;top:326px;transform:scaleX(1.0645);">wants to be protected</div>
<div class="t s" id="t73" style="font-size:8.2px;line-height:8.2px;left:428.49px;top:341px;transform:scaleX(1.0483);">Routine through 59 yrs and based on risk factors</div>
<div class="t s" id="t74" style="font-size:8.2px;line-height:8.2px;left:435.48px;top:350px;transform:scaleX(1.0554);">for 60 yrs and older; may give to anyone 60+</div>
<div class="t s" id="t75" style="font-size:8.2px;line-height:8.2px;left:475.09px;top:387px;transform:scaleX(1.0585);">Routine through 26 yrs;</div>
<div class="t s" id="t76" style="font-size:8.2px;line-height:8.2px;left:461.34px;top:396px;transform:scaleX(1.0592);">based on SCDM<sup>2</sup> for 27&ndash;45 yrs</div>
<div class="t s" id="t77" style="font-size:8.2px;line-height:8.2px;left:447.79px;top:410px;transform:scaleX(1.0534);">Recommended for any adult known or</div>
<div class="t s" id="t78" style="font-size:8.2px;line-height:8.2px;left:459.06px;top:419px;transform:scaleX(1.0404);">suspected of being unvaccinated</div>
<div class="t s" id="t79" style="font-size:8.2px;line-height:8.2px;left:460.08px;top:478px;transform:scaleX(1.0653);">Based on SCDM<sup>2</sup> for 16&ndash;23 yrs</div>
<div class="t s" id="t80" style="font-size:8.2px;line-height:8.2px;left:467.98px;top:493px;transform:scaleX(1.0748);">Routine 1 dose if born after</div>
<div class="t s" id="t81" style="font-size:8.2px;line-height:8.2px;left:473.64px;top:502px;transform:scaleX(1.0535);">1956; 2nd dose for some</div>
<div class="t s" id="t82" style="font-size:8.2px;line-height:8.2px;left:458.59px;top:534px;transform:scaleX(1.0523);">Routine for age 50 yrs and older;</div>
<div class="t s" id="t83" style="font-size:8.2px;line-height:8.2px;left:454.44px;top:542px;transform:scaleX(1.0626);">based on risk factors for 19&ndash;49 yrs</div>
<div class="t s" id="t84" style="font-size:8.2px;line-height:8.2px;left:445px;top:577px;transform:scaleX(1.0428);">Routine 1 dose for age 75 yrs and older;</div>
<div class="t s" id="t85" style="font-size:8.2px;line-height:8.2px;left:454.44px;top:586px;transform:scaleX(1.0626);">based on risk factors for 50&ndash;74 yrs</div>
<div class="t s" id="t86" style="font-size:8.2px;line-height:8.2px;left:455.78px;top:643px;transform:scaleX(1.0714);">Routine for 50+ yrs; for 19&ndash;49 yrs</div>
<div class="t s" id="t87" style="font-size:8.2px;line-height:8.2px;left:464.01px;top:651px;transform:scaleX(1.0471);">who are immunocompromised</div>
<div class="t s" id="t88" style="font-size:6.8px;line-height:6.8px;font-weight:bold;color:#4a4a4a;left:230.45px;top:498px;">3</div>
<div class="t s" id="t89" style="font-size:6.4px;line-height:6.4px;color:#555;left:179.94px;top:581px;">5</div>
<div class="t s" id="t90" style="font-size:7px;line-height:7px;font-weight:bold;left:49.84px;top:671px;transform:scaleX(0.9922);">NOTES</div>
<div class="t s" id="t91" style="font-size:7.3px;line-height:7.3px;left:86.26px;top:668px;transform:scaleX(0.9729);">1 = See CDC&rsquo;s Recommended Adult Immunization Schedule at www.cdc.gov/vaccines/hcp/imz-schedules/downloads/adult/adult-combined-schedule.pdf</div>
<div class="t s" id="t92" style="font-size:7.3px;line-height:7.3px;left:86.44px;top:676px;transform:scaleX(0.9741);">2 = SCDM (Shared Clinical Decision-Making): See ACIP recommendations on considerations for SCDM for HPV for adults 27&ndash;45 yrs and for MenB for 16&ndash;23 yrs.</div>
<div class="t s" id="t93" style="font-size:7.3px;line-height:7.3px;left:86.53px;top:684px;transform:scaleX(0.9584);">3 = Vaccination may be indicated depending on degree of immunosuppression.</div>
<div class="t s" id="t94" style="font-size:7.3px;line-height:7.3px;left:86.64px;top:692px;transform:scaleX(0.9566);">4 = Post-exposure vaccination also recommended. Further evaluation for specific risks is required.</div>
<div class="t s" id="t95" style="font-size:7.3px;line-height:7.3px;left:86.52px;top:700px;transform:scaleX(0.9544);">5 = Seasonal, one-time option for RSV vaccine (Abrysvo) at 32 through 36 wks 6 days gestation.</div>
<div class="t s" id="t96" style="font-size:7.3px;line-height:7.3px;left:86.42px;top:709px;transform:scaleX(1.0327);">6 = Varicella is contraindicated in people with severe immunocompromise.</div>
<div class="t" id="t97" style="font-size:22.6px;line-height:22.6px;font-weight:bold;color:#111;left:82.03px;top:726px;transform:scaleX(0.9067);-webkit-text-stroke:0.5px #111;">Immunize.</div>
<div class="t" id="t98" style="font-size:22.6px;line-height:22.6px;color:#111;left:180.75px;top:726px;transform:scaleX(1.0049);">org</div>
<div class="t s" id="t99" style="font-size:8.3px;line-height:8.3px;font-weight:bold;left:82.51px;top:755px;transform:scaleX(0.8896);">FOR PROFESSIONALS</div>
<div class="t s" id="t100" style="font-size:9.4px;line-height:9.4px;left:169.02px;top:754px;transform:scaleX(1.0938);">www.immunize.org</div>
<div class="t s" id="t101" style="font-size:9.4px;line-height:9.4px;left:259.8px;top:754px;">/</div>
<div class="t s" id="t102" style="font-size:8.3px;line-height:8.3px;font-weight:bold;left:269.01px;top:755px;transform:scaleX(0.8761);">FOR THE PUBLIC</div>
<div class="t s" id="t103" style="font-size:9.4px;line-height:9.4px;left:335.91px;top:754px;transform:scaleX(1.0299);">www.vaccineinformation.org</div>
<div class="t s" id="t104" style="font-size:9.6px;line-height:9.6px;left:743.41px;top:741px;transform:scaleX(1.0492);">www.immunize.org/catg.d/p3070.pdf</div>
<div class="t s" id="t105" style="font-size:9.6px;line-height:9.6px;left:792.55px;top:756px;transform:scaleX(1.0720);">Item #P3070 (8/26/2025)</div>
<div class="t s" id="t106" style="font-size:9.6px;line-height:9.6px;left:916.11px;top:768px;transform:scaleX(0.9018);">Scan for PDF</div>
<svg class="ov" width="1024" height="791" viewBox="0 0 1024 791"><use href="#ck" x="199.3" y="320.8"/>
<use href="#ck" x="227.05" y="320.8"/>
<use href="#ck" x="633.35" y="320.8"/>
<use href="#ck" x="690.2" y="320.8"/>
<use href="#ck" x="718.55" y="320.8"/>
<use href="#ck" x="747.05" y="320.8"/>
<use href="#ck" x="775.35" y="320.8"/>
<use href="#ck" x="888.1" y="320.8"/>
<use href="#ck" x="914.95" y="320.8"/>
<use href="#ck" x="199.3" y="345.2"/>
<use href="#ck" x="227.05" y="345.2"/>
<use href="#ck" x="254.8" y="345.2"/>
<use href="#ck" x="633.35" y="345.2"/>
<use href="#ck" x="661.65" y="345.2"/>
<use href="#ck" x="690.2" y="345.2"/>
<use href="#ck" x="747.05" y="345.2"/>
<use href="#ck" x="861.15" y="345.2"/>
<use href="#ck" x="946.55" y="345.2"/>
<use href="#ck" x="199.3" y="368"/>
<use href="#ck" x="282.55" y="368"/>
<use href="#ck" x="747.05" y="414.45"/>
<use href="#ck" x="888.1" y="414.45"/>
<use href="#ck" x="199.3" y="455.55"/>
<use href="#ck" x="227.05" y="455.55"/>
<use href="#ck" x="282.55" y="455.55"/>
<use href="#ck" x="747.05" y="455.55"/>
<use href="#ck" x="832.55" y="455.55"/>
<use href="#ck" x="888.1" y="455.55"/>
<use href="#ck" x="914.95" y="455.55"/>
<use href="#ck" x="199.3" y="476.25"/>
<use href="#ck" x="282.55" y="476.25"/>
<use href="#ck" x="888.1" y="476.25"/>
<use href="#ck" x="914.95" y="476.25"/>
<use href="#ck" x="747.05" y="496.95"/>
<use href="#ck" x="832.55" y="496.95"/>
<use href="#ck" x="861.15" y="496.95"/>
<use href="#ck" x="914.95" y="496.95"/>
<use href="#ck" x="254.8" y="516.75"/>
<use href="#ck" x="633.35" y="516.75"/>
<use href="#ck" x="661.65" y="516.75"/>
<use href="#ck" x="888.1" y="516.75"/>
<use href="#ck" x="199.3" y="537.75"/>
<use href="#ck" x="227.05" y="537.75"/>
<use href="#ck" x="282.55" y="537.75"/>
<use href="#ck" x="310.6" y="537.75"/>
<use href="#ck" x="340.4" y="537.75"/>
<use href="#ck" x="370.35" y="537.75"/>
<use href="#ck" x="398.7" y="537.75"/>
<use href="#ck" x="803.85" y="537.75"/>
<use href="#ck" x="169.4" y="579.9"/>
<use href="#ck" x="199.3" y="579.9"/>
<use href="#ck" x="227.05" y="579.9"/>
<use href="#ck" x="946.55" y="579.9"/>
<use href="#ck" x="199.3" y="646.1"/>
<use href="#ck" x="227.05" y="646.1"/>
<use href="#ck" x="340.4" y="646.1"/><g fill="#1a1a1a"><rect x="400.7" y="439.05" width="1.3" height="1.3"/>
<rect x="404.55" y="439.05" width="1.3" height="1.3"/>
<rect x="408.4" y="439.05" width="1.3" height="1.3"/>
<rect x="412.25" y="439.05" width="1.3" height="1.3"/>
<rect x="416.1" y="439.05" width="1.3" height="1.3"/>
<rect x="419.95" y="439.05" width="1.3" height="1.3"/>
<rect x="423.8" y="439.05" width="1.3" height="1.3"/>
<rect x="427.65" y="439.05" width="1.3" height="1.3"/>
<rect x="431.5" y="439.05" width="1.3" height="1.3"/>
<rect x="435.35" y="439.05" width="1.3" height="1.3"/>
<rect x="439.2" y="439.05" width="1.3" height="1.3"/>
<rect x="443.05" y="439.05" width="1.3" height="1.3"/>
<rect x="446.9" y="439.05" width="1.3" height="1.3"/>
<rect x="450.75" y="439.05" width="1.3" height="1.3"/>
<rect x="454.6" y="439.05" width="1.3" height="1.3"/>
<rect x="458.45" y="439.05" width="1.3" height="1.3"/>
<rect x="462.3" y="439.05" width="1.3" height="1.3"/>
<rect x="466.15" y="439.05" width="1.3" height="1.3"/>
<rect x="470" y="439.05" width="1.3" height="1.3"/>
<rect x="473.85" y="439.05" width="1.3" height="1.3"/>
<rect x="477.7" y="439.05" width="1.3" height="1.3"/>
<rect x="481.55" y="439.05" width="1.3" height="1.3"/>
<rect x="485.4" y="439.05" width="1.3" height="1.3"/>
<rect x="489.25" y="439.05" width="1.3" height="1.3"/>
<rect x="493.1" y="439.05" width="1.3" height="1.3"/>
<rect x="496.95" y="439.05" width="1.3" height="1.3"/>
<rect x="500.8" y="439.05" width="1.3" height="1.3"/>
<rect x="504.65" y="439.05" width="1.3" height="1.3"/>
<rect x="508.5" y="439.05" width="1.3" height="1.3"/>
<rect x="512.35" y="439.05" width="1.3" height="1.3"/>
<rect x="516.2" y="439.05" width="1.3" height="1.3"/>
<rect x="520.05" y="439.05" width="1.3" height="1.3"/>
<rect x="523.9" y="439.05" width="1.3" height="1.3"/>
<rect x="527.75" y="439.05" width="1.3" height="1.3"/>
<rect x="531.6" y="439.05" width="1.3" height="1.3"/>
<rect x="535.45" y="439.05" width="1.3" height="1.3"/>
<rect x="539.3" y="439.05" width="1.3" height="1.3"/>
<rect x="543.15" y="439.05" width="1.3" height="1.3"/>
<rect x="547" y="439.05" width="1.3" height="1.3"/>
<rect x="550.85" y="439.05" width="1.3" height="1.3"/>
<rect x="554.7" y="439.05" width="1.3" height="1.3"/>
<rect x="558.55" y="439.05" width="1.3" height="1.3"/>
<rect x="562.4" y="439.05" width="1.3" height="1.3"/>
<rect x="566.25" y="439.05" width="1.3" height="1.3"/>
<rect x="570.1" y="439.05" width="1.3" height="1.3"/>
<rect x="573.95" y="439.05" width="1.3" height="1.3"/>
<rect x="577.8" y="439.05" width="1.3" height="1.3"/>
<rect x="581.65" y="439.05" width="1.3" height="1.3"/>
<rect x="585.5" y="439.05" width="1.3" height="1.3"/>
<rect x="589.35" y="439.05" width="1.3" height="1.3"/>
<rect x="593.2" y="439.05" width="1.3" height="1.3"/>
<rect x="597.05" y="439.05" width="1.3" height="1.3"/>
<rect x="600.9" y="439.05" width="1.3" height="1.3"/>
<rect x="604.75" y="439.05" width="1.3" height="1.3"/>
<rect x="608.6" y="439.05" width="1.3" height="1.3"/>
<rect x="612.45" y="439.05" width="1.3" height="1.3"/>
<rect x="616.3" y="439.05" width="1.3" height="1.3"/>
<rect x="620.15" y="439.05" width="1.3" height="1.3"/>
<rect x="624" y="439.05" width="1.3" height="1.3"/>
<rect x="627.85" y="439.05" width="1.3" height="1.3"/>
<rect x="631.7" y="439.05" width="1.3" height="1.3"/>
<rect x="635.55" y="439.05" width="1.3" height="1.3"/>
<rect x="639.4" y="439.05" width="1.3" height="1.3"/>
<rect x="643.25" y="439.05" width="1.3" height="1.3"/>
<rect x="647.1" y="439.05" width="1.3" height="1.3"/>
<rect x="650.95" y="439.05" width="1.3" height="1.3"/>
<rect x="654.8" y="439.05" width="1.3" height="1.3"/>
<rect x="658.65" y="439.05" width="1.3" height="1.3"/>
<rect x="662.5" y="439.05" width="1.3" height="1.3"/>
<rect x="666.35" y="439.05" width="1.3" height="1.3"/>
<rect x="670.2" y="439.05" width="1.3" height="1.3"/>
<rect x="674.05" y="439.05" width="1.3" height="1.3"/>
<rect x="677.9" y="439.05" width="1.3" height="1.3"/>
<rect x="681.75" y="439.05" width="1.3" height="1.3"/>
<rect x="685.6" y="439.05" width="1.3" height="1.3"/>
<rect x="689.45" y="439.05" width="1.3" height="1.3"/>
<rect x="693.3" y="439.05" width="1.3" height="1.3"/>
<rect x="697.15" y="439.05" width="1.3" height="1.3"/>
<rect x="701" y="439.05" width="1.3" height="1.3"/>
<rect x="704.85" y="439.05" width="1.3" height="1.3"/>
<rect x="708.7" y="439.05" width="1.3" height="1.3"/>
<rect x="712.55" y="439.05" width="1.3" height="1.3"/>
<rect x="716.4" y="439.05" width="1.3" height="1.3"/>
<rect x="720.25" y="439.05" width="1.3" height="1.3"/>
<rect x="724.1" y="439.05" width="1.3" height="1.3"/>
<rect x="727.95" y="439.05" width="1.3" height="1.3"/>
<rect x="731.8" y="439.05" width="1.3" height="1.3"/>
<rect x="735.65" y="439.05" width="1.3" height="1.3"/>
<rect x="739.5" y="439.05" width="1.3" height="1.3"/>
<rect x="743.35" y="439.05" width="1.3" height="1.3"/>
<rect x="747.2" y="439.05" width="1.3" height="1.3"/>
<rect x="751.05" y="439.05" width="1.3" height="1.3"/>
<rect x="754.9" y="439.05" width="1.3" height="1.3"/>
<rect x="758.75" y="439.05" width="1.3" height="1.3"/>
<rect x="762.6" y="439.05" width="1.3" height="1.3"/>
<rect x="766.45" y="439.05" width="1.3" height="1.3"/>
<rect x="770.3" y="439.05" width="1.3" height="1.3"/>
<rect x="774.15" y="439.05" width="1.3" height="1.3"/>
<rect x="778" y="439.05" width="1.3" height="1.3"/>
<rect x="781.85" y="439.05" width="1.3" height="1.3"/>
<rect x="785.7" y="439.05" width="1.3" height="1.3"/>
<rect x="789.55" y="439.05" width="1.3" height="1.3"/>
<rect x="793.4" y="439.05" width="1.3" height="1.3"/>
<rect x="797.25" y="439.05" width="1.3" height="1.3"/>
<rect x="801.1" y="439.05" width="1.3" height="1.3"/>
<rect x="804.95" y="439.05" width="1.3" height="1.3"/>
<rect x="808.8" y="439.05" width="1.3" height="1.3"/>
<rect x="812.65" y="439.05" width="1.3" height="1.3"/>
<rect x="816.5" y="439.05" width="1.3" height="1.3"/>
<rect x="820.35" y="439.05" width="1.3" height="1.3"/>
<rect x="824.2" y="439.05" width="1.3" height="1.3"/>
<rect x="828.05" y="439.05" width="1.3" height="1.3"/>
<rect x="831.9" y="439.05" width="1.3" height="1.3"/>
<rect x="835.75" y="439.05" width="1.3" height="1.3"/>
<rect x="839.6" y="439.05" width="1.3" height="1.3"/>
<rect x="843.45" y="439.05" width="1.3" height="1.3"/>
<rect x="847.3" y="439.05" width="1.3" height="1.3"/>
<rect x="851.15" y="439.05" width="1.3" height="1.3"/>
<rect x="855" y="439.05" width="1.3" height="1.3"/>
<rect x="858.85" y="439.05" width="1.3" height="1.3"/>
<rect x="862.7" y="439.05" width="1.3" height="1.3"/>
<rect x="866.55" y="439.05" width="1.3" height="1.3"/>
<rect x="870.4" y="439.05" width="1.3" height="1.3"/>
<rect x="874.25" y="439.05" width="1.3" height="1.3"/>
<rect x="878.1" y="439.05" width="1.3" height="1.3"/>
<rect x="881.95" y="439.05" width="1.3" height="1.3"/>
<rect x="885.8" y="439.05" width="1.3" height="1.3"/>
<rect x="889.65" y="439.05" width="1.3" height="1.3"/>
<rect x="893.5" y="439.05" width="1.3" height="1.3"/>
<rect x="897.35" y="439.05" width="1.3" height="1.3"/>
<rect x="901.2" y="439.05" width="1.3" height="1.3"/>
<rect x="905.05" y="439.05" width="1.3" height="1.3"/>
<rect x="908.9" y="439.05" width="1.3" height="1.3"/>
<rect x="912.75" y="439.05" width="1.3" height="1.3"/>
<rect x="916.6" y="439.05" width="1.3" height="1.3"/>
<rect x="920.45" y="439.05" width="1.3" height="1.3"/>
<rect x="924.3" y="439.05" width="1.3" height="1.3"/>
<rect x="928.15" y="439.05" width="1.3" height="1.3"/>
<rect x="932" y="439.05" width="1.3" height="1.3"/>
<rect x="935.85" y="439.05" width="1.3" height="1.3"/>
<rect x="939.7" y="439.05" width="1.3" height="1.3"/>
<rect x="943.55" y="439.05" width="1.3" height="1.3"/>
<rect x="947.4" y="439.05" width="1.3" height="1.3"/>
<path d="M951.6 436.2 L961 439.7 L951.6 443.2 Z"/>
<rect x="780.8" y="604.35" width="1.3" height="1.3"/>
<rect x="784.65" y="604.35" width="1.3" height="1.3"/>
<rect x="788.5" y="604.35" width="1.3" height="1.3"/>
<rect x="792.35" y="604.35" width="1.3" height="1.3"/>
<rect x="796.2" y="604.35" width="1.3" height="1.3"/>
<rect x="800.05" y="604.35" width="1.3" height="1.3"/>
<rect x="803.9" y="604.35" width="1.3" height="1.3"/>
<rect x="807.75" y="604.35" width="1.3" height="1.3"/>
<rect x="811.6" y="604.35" width="1.3" height="1.3"/>
<rect x="815.45" y="604.35" width="1.3" height="1.3"/>
<rect x="819.3" y="604.35" width="1.3" height="1.3"/>
<rect x="823.15" y="604.35" width="1.3" height="1.3"/>
<rect x="827" y="604.35" width="1.3" height="1.3"/>
<rect x="830.85" y="604.35" width="1.3" height="1.3"/>
<rect x="834.7" y="604.35" width="1.3" height="1.3"/>
<rect x="838.55" y="604.35" width="1.3" height="1.3"/>
<rect x="842.4" y="604.35" width="1.3" height="1.3"/>
<rect x="846.25" y="604.35" width="1.3" height="1.3"/>
<rect x="850.1" y="604.35" width="1.3" height="1.3"/>
<rect x="853.95" y="604.35" width="1.3" height="1.3"/>
<rect x="857.8" y="604.35" width="1.3" height="1.3"/>
<rect x="861.65" y="604.35" width="1.3" height="1.3"/>
<rect x="865.5" y="604.35" width="1.3" height="1.3"/>
<rect x="869.35" y="604.35" width="1.3" height="1.3"/>
<rect x="873.2" y="604.35" width="1.3" height="1.3"/>
<rect x="877.05" y="604.35" width="1.3" height="1.3"/>
<rect x="880.9" y="604.35" width="1.3" height="1.3"/>
<rect x="884.75" y="604.35" width="1.3" height="1.3"/>
<rect x="888.6" y="604.35" width="1.3" height="1.3"/>
<rect x="892.45" y="604.35" width="1.3" height="1.3"/>
<rect x="896.3" y="604.35" width="1.3" height="1.3"/>
<rect x="900.15" y="604.35" width="1.3" height="1.3"/>
<rect x="904" y="604.35" width="1.3" height="1.3"/>
<rect x="907.85" y="604.35" width="1.3" height="1.3"/>
<rect x="911.7" y="604.35" width="1.3" height="1.3"/>
<rect x="915.55" y="604.35" width="1.3" height="1.3"/>
<rect x="919.4" y="604.35" width="1.3" height="1.3"/>
<rect x="923.25" y="604.35" width="1.3" height="1.3"/>
<rect x="927.1" y="604.35" width="1.3" height="1.3"/>
<rect x="930.95" y="604.35" width="1.3" height="1.3"/>
<rect x="934.8" y="604.35" width="1.3" height="1.3"/>
<rect x="938.65" y="604.35" width="1.3" height="1.3"/>
<rect x="942.5" y="604.35" width="1.3" height="1.3"/>
<rect x="946.35" y="604.35" width="1.3" height="1.3"/>
<path d="M951.6 601.5 L961 605 L951.6 608.5 Z"/>
<rect x="909" y="625.95" width="1.3" height="1.3"/>
<rect x="912.85" y="625.95" width="1.3" height="1.3"/>
<rect x="916.7" y="625.95" width="1.3" height="1.3"/>
<rect x="920.55" y="625.95" width="1.3" height="1.3"/>
<rect x="924.4" y="625.95" width="1.3" height="1.3"/>
<rect x="928.25" y="625.95" width="1.3" height="1.3"/>
<rect x="932.1" y="625.95" width="1.3" height="1.3"/>
<rect x="935.95" y="625.95" width="1.3" height="1.3"/>
<rect x="939.8" y="625.95" width="1.3" height="1.3"/>
<rect x="943.65" y="625.95" width="1.3" height="1.3"/>
<rect x="947.5" y="625.95" width="1.3" height="1.3"/>
<path d="M951.6 623.1 L961 626.6 L951.6 630.1 Z"/></g></svg>

<svg class="c" style="left:44px;top:715px" width="36" height="36" viewBox="0 0 36 36">
<circle cx="18" cy="18.1" r="14.8" fill="#000"/>
<path d="M9.0 12.5 Q17.8 14.0 27.0 12.3 C27.3 21.5 24.2 26.8 17.75 30.3 C11.4 26.8 8.7 21.5 9.0 12.5 Z" fill="#fff"/>
<rect x="16.2" y="12" width="3.2" height="11.5" fill="#000"/>
<circle cx="17.85" cy="9.55" r="3.2" fill="#fff"/>
</svg>
<svg class="c" style="left:915.5px;top:709.9px" width="55" height="55" viewBox="0 0 54.9 54.9">
<path d="M0 0h1.34v1.34h-1.34zM1.34 0h1.34v1.34h-1.34zM2.68 0h1.34v1.34h-1.34zM4.02 0h1.34v1.34h-1.34zM5.36 0h1.34v1.34h-1.34zM6.7 0h1.34v1.34h-1.34zM8.03 0h1.34v1.34h-1.34zM10.71 0h1.34v1.34h-1.34zM12.05 0h1.34v1.34h-1.34zM13.39 0h1.34v1.34h-1.34zM14.73 0h1.34v1.34h-1.34zM16.07 0h1.34v1.34h-1.34zM18.75 0h1.34v1.34h-1.34zM20.09 0h1.34v1.34h-1.34zM25.44 0h1.34v1.34h-1.34zM28.12 0h1.34v1.34h-1.34zM30.8 0h1.34v1.34h-1.34zM32.14 0h1.34v1.34h-1.34zM33.48 0h1.34v1.34h-1.34zM34.81 0h1.34v1.34h-1.34zM37.49 0h1.34v1.34h-1.34zM41.51 0h1.34v1.34h-1.34zM45.53 0h1.34v1.34h-1.34zM46.87 0h1.34v1.34h-1.34zM48.2 0h1.34v1.34h-1.34zM49.54 0h1.34v1.34h-1.34zM50.88 0h1.34v1.34h-1.34zM52.22 0h1.34v1.34h-1.34zM53.56 0h1.34v1.34h-1.34zM0 1.34h1.34v1.34h-1.34zM8.03 1.34h1.34v1.34h-1.34zM10.71 1.34h1.34v1.34h-1.34zM13.39 1.34h1.34v1.34h-1.34zM14.73 1.34h1.34v1.34h-1.34zM17.41 1.34h1.34v1.34h-1.34zM18.75 1.34h1.34v1.34h-1.34zM20.09 1.34h1.34v1.34h-1.34zM26.78 1.34h1.34v1.34h-1.34zM32.14 1.34h1.34v1.34h-1.34zM36.15 1.34h1.34v1.34h-1.34zM38.83 1.34h1.34v1.34h-1.34zM45.53 1.34h1.34v1.34h-1.34zM53.56 1.34h1.34v1.34h-1.34zM0 2.68h1.34v1.34h-1.34zM2.68 2.68h1.34v1.34h-1.34zM4.02 2.68h1.34v1.34h-1.34zM5.36 2.68h1.34v1.34h-1.34zM8.03 2.68h1.34v1.34h-1.34zM16.07 2.68h1.34v1.34h-1.34zM17.41 2.68h1.34v1.34h-1.34zM18.75 2.68h1.34v1.34h-1.34zM22.76 2.68h1.34v1.34h-1.34zM24.1 2.68h1.34v1.34h-1.34zM25.44 2.68h1.34v1.34h-1.34zM26.78 2.68h1.34v1.34h-1.34zM28.12 2.68h1.34v1.34h-1.34zM30.8 2.68h1.34v1.34h-1.34zM32.14 2.68h1.34v1.34h-1.34zM33.48 2.68h1.34v1.34h-1.34zM34.81 2.68h1.34v1.34h-1.34zM45.53 2.68h1.34v1.34h-1.34zM48.2 2.68h1.34v1.34h-1.34zM49.54 2.68h1.34v1.34h-1.34zM50.88 2.68h1.34v1.34h-1.34zM53.56 2.68h1.34v1.34h-1.34zM0 4.02h1.34v1.34h-1.34zM2.68 4.02h1.34v1.34h-1.34zM4.02 4.02h1.34v1.34h-1.34zM5.36 4.02h1.34v1.34h-1.34zM8.03 4.02h1.34v1.34h-1.34zM10.71 4.02h1.34v1.34h-1.34zM12.05 4.02h1.34v1.34h-1.34zM13.39 4.02h1.34v1.34h-1.34zM14.73 4.02h1.34v1.34h-1.34zM18.75 4.02h1.34v1.34h-1.34zM20.09 4.02h1.34v1.34h-1.34zM21.42 4.02h1.34v1.34h-1.34zM22.76 4.02h1.34v1.34h-1.34zM24.1 4.02h1.34v1.34h-1.34zM28.12 4.02h1.34v1.34h-1.34zM29.46 4.02h1.34v1.34h-1.34zM30.8 4.02h1.34v1.34h-1.34zM32.14 4.02h1.34v1.34h-1.34zM33.48 4.02h1.34v1.34h-1.34zM34.81 4.02h1.34v1.34h-1.34zM37.49 4.02h1.34v1.34h-1.34zM38.83 4.02h1.34v1.34h-1.34zM42.85 4.02h1.34v1.34h-1.34zM45.53 4.02h1.34v1.34h-1.34zM48.2 4.02h1.34v1.34h-1.34zM49.54 4.02h1.34v1.34h-1.34zM50.88 4.02h1.34v1.34h-1.34zM53.56 4.02h1.34v1.34h-1.34zM0 5.36h1.34v1.34h-1.34zM2.68 5.36h1.34v1.34h-1.34zM4.02 5.36h1.34v1.34h-1.34zM5.36 5.36h1.34v1.34h-1.34zM8.03 5.36h1.34v1.34h-1.34zM16.07 5.36h1.34v1.34h-1.34zM18.75 5.36h1.34v1.34h-1.34zM20.09 5.36h1.34v1.34h-1.34zM21.42 5.36h1.34v1.34h-1.34zM22.76 5.36h1.34v1.34h-1.34zM24.1 5.36h1.34v1.34h-1.34zM28.12 5.36h1.34v1.34h-1.34zM33.48 5.36h1.34v1.34h-1.34zM34.81 5.36h1.34v1.34h-1.34zM36.15 5.36h1.34v1.34h-1.34zM37.49 5.36h1.34v1.34h-1.34zM38.83 5.36h1.34v1.34h-1.34zM45.53 5.36h1.34v1.34h-1.34zM48.2 5.36h1.34v1.34h-1.34zM49.54 5.36h1.34v1.34h-1.34zM50.88 5.36h1.34v1.34h-1.34zM53.56 5.36h1.34v1.34h-1.34zM0 6.7h1.34v1.34h-1.34zM8.03 6.7h1.34v1.34h-1.34zM13.39 6.7h1.34v1.34h-1.34zM14.73 6.7h1.34v1.34h-1.34zM16.07 6.7h1.34v1.34h-1.34zM20.09 6.7h1.34v1.34h-1.34zM25.44 6.7h1.34v1.34h-1.34zM28.12 6.7h1.34v1.34h-1.34zM29.46 6.7h1.34v1.34h-1.34zM36.15 6.7h1.34v1.34h-1.34zM40.17 6.7h1.34v1.34h-1.34zM41.51 6.7h1.34v1.34h-1.34zM42.85 6.7h1.34v1.34h-1.34zM45.53 6.7h1.34v1.34h-1.34zM53.56 6.7h1.34v1.34h-1.34zM0 8.03h1.34v1.34h-1.34zM1.34 8.03h1.34v1.34h-1.34zM2.68 8.03h1.34v1.34h-1.34zM4.02 8.03h1.34v1.34h-1.34zM5.36 8.03h1.34v1.34h-1.34zM6.7 8.03h1.34v1.34h-1.34zM8.03 8.03h1.34v1.34h-1.34zM10.71 8.03h1.34v1.34h-1.34zM12.05 8.03h1.34v1.34h-1.34zM13.39 8.03h1.34v1.34h-1.34zM16.07 8.03h1.34v1.34h-1.34zM17.41 8.03h1.34v1.34h-1.34zM21.42 8.03h1.34v1.34h-1.34zM26.78 8.03h1.34v1.34h-1.34zM29.46 8.03h1.34v1.34h-1.34zM30.8 8.03h1.34v1.34h-1.34zM38.83 8.03h1.34v1.34h-1.34zM45.53 8.03h1.34v1.34h-1.34zM46.87 8.03h1.34v1.34h-1.34zM48.2 8.03h1.34v1.34h-1.34zM49.54 8.03h1.34v1.34h-1.34zM50.88 8.03h1.34v1.34h-1.34zM52.22 8.03h1.34v1.34h-1.34zM53.56 8.03h1.34v1.34h-1.34zM10.71 9.37h1.34v1.34h-1.34zM12.05 9.37h1.34v1.34h-1.34zM17.41 9.37h1.34v1.34h-1.34zM21.42 9.37h1.34v1.34h-1.34zM25.44 9.37h1.34v1.34h-1.34zM28.12 9.37h1.34v1.34h-1.34zM29.46 9.37h1.34v1.34h-1.34zM33.48 9.37h1.34v1.34h-1.34zM34.81 9.37h1.34v1.34h-1.34zM37.49 9.37h1.34v1.34h-1.34zM38.83 9.37h1.34v1.34h-1.34zM40.17 9.37h1.34v1.34h-1.34zM42.85 9.37h1.34v1.34h-1.34zM2.68 10.71h1.34v1.34h-1.34zM4.02 10.71h1.34v1.34h-1.34zM5.36 10.71h1.34v1.34h-1.34zM8.03 10.71h1.34v1.34h-1.34zM9.37 10.71h1.34v1.34h-1.34zM10.71 10.71h1.34v1.34h-1.34zM14.73 10.71h1.34v1.34h-1.34zM16.07 10.71h1.34v1.34h-1.34zM21.42 10.71h1.34v1.34h-1.34zM22.76 10.71h1.34v1.34h-1.34zM25.44 10.71h1.34v1.34h-1.34zM26.78 10.71h1.34v1.34h-1.34zM32.14 10.71h1.34v1.34h-1.34zM34.81 10.71h1.34v1.34h-1.34zM37.49 10.71h1.34v1.34h-1.34zM38.83 10.71h1.34v1.34h-1.34zM42.85 10.71h1.34v1.34h-1.34zM44.19 10.71h1.34v1.34h-1.34zM46.87 10.71h1.34v1.34h-1.34zM48.2 10.71h1.34v1.34h-1.34zM49.54 10.71h1.34v1.34h-1.34zM50.88 10.71h1.34v1.34h-1.34zM52.22 10.71h1.34v1.34h-1.34zM53.56 10.71h1.34v1.34h-1.34zM0 12.05h1.34v1.34h-1.34zM2.68 12.05h1.34v1.34h-1.34zM5.36 12.05h1.34v1.34h-1.34zM6.7 12.05h1.34v1.34h-1.34zM8.03 12.05h1.34v1.34h-1.34zM9.37 12.05h1.34v1.34h-1.34zM10.71 12.05h1.34v1.34h-1.34zM14.73 12.05h1.34v1.34h-1.34zM16.07 12.05h1.34v1.34h-1.34zM18.75 12.05h1.34v1.34h-1.34zM21.42 12.05h1.34v1.34h-1.34zM22.76 12.05h1.34v1.34h-1.34zM25.44 12.05h1.34v1.34h-1.34zM30.8 12.05h1.34v1.34h-1.34zM36.15 12.05h1.34v1.34h-1.34zM37.49 12.05h1.34v1.34h-1.34zM38.83 12.05h1.34v1.34h-1.34zM40.17 12.05h1.34v1.34h-1.34zM41.51 12.05h1.34v1.34h-1.34zM44.19 12.05h1.34v1.34h-1.34zM45.53 12.05h1.34v1.34h-1.34zM46.87 12.05h1.34v1.34h-1.34zM52.22 12.05h1.34v1.34h-1.34zM53.56 12.05h1.34v1.34h-1.34zM0 13.39h1.34v1.34h-1.34zM1.34 13.39h1.34v1.34h-1.34zM2.68 13.39h1.34v1.34h-1.34zM4.02 13.39h1.34v1.34h-1.34zM5.36 13.39h1.34v1.34h-1.34zM10.71 13.39h1.34v1.34h-1.34zM13.39 13.39h1.34v1.34h-1.34zM14.73 13.39h1.34v1.34h-1.34zM16.07 13.39h1.34v1.34h-1.34zM17.41 13.39h1.34v1.34h-1.34zM18.75 13.39h1.34v1.34h-1.34zM21.42 13.39h1.34v1.34h-1.34zM24.1 13.39h1.34v1.34h-1.34zM25.44 13.39h1.34v1.34h-1.34zM26.78 13.39h1.34v1.34h-1.34zM28.12 13.39h1.34v1.34h-1.34zM29.46 13.39h1.34v1.34h-1.34zM30.8 13.39h1.34v1.34h-1.34zM32.14 13.39h1.34v1.34h-1.34zM33.48 13.39h1.34v1.34h-1.34zM42.85 13.39h1.34v1.34h-1.34zM44.19 13.39h1.34v1.34h-1.34zM46.87 13.39h1.34v1.34h-1.34zM50.88 13.39h1.34v1.34h-1.34zM4.02 14.73h1.34v1.34h-1.34zM17.41 14.73h1.34v1.34h-1.34zM18.75 14.73h1.34v1.34h-1.34zM20.09 14.73h1.34v1.34h-1.34zM21.42 14.73h1.34v1.34h-1.34zM22.76 14.73h1.34v1.34h-1.34zM30.8 14.73h1.34v1.34h-1.34zM32.14 14.73h1.34v1.34h-1.34zM40.17 14.73h1.34v1.34h-1.34zM42.85 14.73h1.34v1.34h-1.34zM44.19 14.73h1.34v1.34h-1.34zM45.53 14.73h1.34v1.34h-1.34zM48.2 14.73h1.34v1.34h-1.34zM52.22 14.73h1.34v1.34h-1.34zM53.56 14.73h1.34v1.34h-1.34zM0 16.07h1.34v1.34h-1.34zM6.7 16.07h1.34v1.34h-1.34zM8.03 16.07h1.34v1.34h-1.34zM9.37 16.07h1.34v1.34h-1.34zM12.05 16.07h1.34v1.34h-1.34zM14.73 16.07h1.34v1.34h-1.34zM16.07 16.07h1.34v1.34h-1.34zM17.41 16.07h1.34v1.34h-1.34zM22.76 16.07h1.34v1.34h-1.34zM25.44 16.07h1.34v1.34h-1.34zM26.78 16.07h1.34v1.34h-1.34zM28.12 16.07h1.34v1.34h-1.34zM30.8 16.07h1.34v1.34h-1.34zM34.81 16.07h1.34v1.34h-1.34zM36.15 16.07h1.34v1.34h-1.34zM40.17 16.07h1.34v1.34h-1.34zM41.51 16.07h1.34v1.34h-1.34zM42.85 16.07h1.34v1.34h-1.34zM45.53 16.07h1.34v1.34h-1.34zM48.2 16.07h1.34v1.34h-1.34zM52.22 16.07h1.34v1.34h-1.34zM4.02 17.41h1.34v1.34h-1.34zM6.7 17.41h1.34v1.34h-1.34zM8.03 17.41h1.34v1.34h-1.34zM9.37 17.41h1.34v1.34h-1.34zM10.71 17.41h1.34v1.34h-1.34zM12.05 17.41h1.34v1.34h-1.34zM13.39 17.41h1.34v1.34h-1.34zM14.73 17.41h1.34v1.34h-1.34zM16.07 17.41h1.34v1.34h-1.34zM17.41 17.41h1.34v1.34h-1.34zM20.09 17.41h1.34v1.34h-1.34zM24.1 17.41h1.34v1.34h-1.34zM29.46 17.41h1.34v1.34h-1.34zM30.8 17.41h1.34v1.34h-1.34zM32.14 17.41h1.34v1.34h-1.34zM36.15 17.41h1.34v1.34h-1.34zM37.49 17.41h1.34v1.34h-1.34zM38.83 17.41h1.34v1.34h-1.34zM40.17 17.41h1.34v1.34h-1.34zM41.51 17.41h1.34v1.34h-1.34zM44.19 17.41h1.34v1.34h-1.34zM46.87 17.41h1.34v1.34h-1.34zM48.2 17.41h1.34v1.34h-1.34zM50.88 17.41h1.34v1.34h-1.34zM52.22 17.41h1.34v1.34h-1.34zM9.37 18.75h1.34v1.34h-1.34zM12.05 18.75h1.34v1.34h-1.34zM16.07 18.75h1.34v1.34h-1.34zM17.41 18.75h1.34v1.34h-1.34zM20.09 18.75h1.34v1.34h-1.34zM21.42 18.75h1.34v1.34h-1.34zM22.76 18.75h1.34v1.34h-1.34zM24.1 18.75h1.34v1.34h-1.34zM28.12 18.75h1.34v1.34h-1.34zM30.8 18.75h1.34v1.34h-1.34zM33.48 18.75h1.34v1.34h-1.34zM34.81 18.75h1.34v1.34h-1.34zM36.15 18.75h1.34v1.34h-1.34zM37.49 18.75h1.34v1.34h-1.34zM40.17 18.75h1.34v1.34h-1.34zM41.51 18.75h1.34v1.34h-1.34zM45.53 18.75h1.34v1.34h-1.34zM46.87 18.75h1.34v1.34h-1.34zM48.2 18.75h1.34v1.34h-1.34zM49.54 18.75h1.34v1.34h-1.34zM50.88 18.75h1.34v1.34h-1.34zM52.22 18.75h1.34v1.34h-1.34zM53.56 18.75h1.34v1.34h-1.34zM0 20.09h1.34v1.34h-1.34zM5.36 20.09h1.34v1.34h-1.34zM6.7 20.09h1.34v1.34h-1.34zM9.37 20.09h1.34v1.34h-1.34zM10.71 20.09h1.34v1.34h-1.34zM12.05 20.09h1.34v1.34h-1.34zM13.39 20.09h1.34v1.34h-1.34zM16.07 20.09h1.34v1.34h-1.34zM21.42 20.09h1.34v1.34h-1.34zM22.76 20.09h1.34v1.34h-1.34zM24.1 20.09h1.34v1.34h-1.34zM25.44 20.09h1.34v1.34h-1.34zM26.78 20.09h1.34v1.34h-1.34zM32.14 20.09h1.34v1.34h-1.34zM33.48 20.09h1.34v1.34h-1.34zM37.49 20.09h1.34v1.34h-1.34zM40.17 20.09h1.34v1.34h-1.34zM41.51 20.09h1.34v1.34h-1.34zM48.2 20.09h1.34v1.34h-1.34zM49.54 20.09h1.34v1.34h-1.34zM50.88 20.09h1.34v1.34h-1.34zM5.36 21.42h1.34v1.34h-1.34zM8.03 21.42h1.34v1.34h-1.34zM10.71 21.42h1.34v1.34h-1.34zM14.73 21.42h1.34v1.34h-1.34zM16.07 21.42h1.34v1.34h-1.34zM17.41 21.42h1.34v1.34h-1.34zM21.42 21.42h1.34v1.34h-1.34zM22.76 21.42h1.34v1.34h-1.34zM26.78 21.42h1.34v1.34h-1.34zM28.12 21.42h1.34v1.34h-1.34zM30.8 21.42h1.34v1.34h-1.34zM32.14 21.42h1.34v1.34h-1.34zM33.48 21.42h1.34v1.34h-1.34zM38.83 21.42h1.34v1.34h-1.34zM40.17 21.42h1.34v1.34h-1.34zM41.51 21.42h1.34v1.34h-1.34zM45.53 21.42h1.34v1.34h-1.34zM46.87 21.42h1.34v1.34h-1.34zM48.2 21.42h1.34v1.34h-1.34zM50.88 21.42h1.34v1.34h-1.34zM52.22 21.42h1.34v1.34h-1.34zM1.34 22.76h1.34v1.34h-1.34zM2.68 22.76h1.34v1.34h-1.34zM4.02 22.76h1.34v1.34h-1.34zM5.36 22.76h1.34v1.34h-1.34zM8.03 22.76h1.34v1.34h-1.34zM13.39 22.76h1.34v1.34h-1.34zM16.07 22.76h1.34v1.34h-1.34zM18.75 22.76h1.34v1.34h-1.34zM20.09 22.76h1.34v1.34h-1.34zM22.76 22.76h1.34v1.34h-1.34zM25.44 22.76h1.34v1.34h-1.34zM26.78 22.76h1.34v1.34h-1.34zM28.12 22.76h1.34v1.34h-1.34zM29.46 22.76h1.34v1.34h-1.34zM33.48 22.76h1.34v1.34h-1.34zM34.81 22.76h1.34v1.34h-1.34zM36.15 22.76h1.34v1.34h-1.34zM38.83 22.76h1.34v1.34h-1.34zM40.17 22.76h1.34v1.34h-1.34zM41.51 22.76h1.34v1.34h-1.34zM42.85 22.76h1.34v1.34h-1.34zM50.88 22.76h1.34v1.34h-1.34zM52.22 22.76h1.34v1.34h-1.34zM1.34 24.1h1.34v1.34h-1.34zM4.02 24.1h1.34v1.34h-1.34zM5.36 24.1h1.34v1.34h-1.34zM6.7 24.1h1.34v1.34h-1.34zM8.03 24.1h1.34v1.34h-1.34zM9.37 24.1h1.34v1.34h-1.34zM10.71 24.1h1.34v1.34h-1.34zM12.05 24.1h1.34v1.34h-1.34zM14.73 24.1h1.34v1.34h-1.34zM17.41 24.1h1.34v1.34h-1.34zM18.75 24.1h1.34v1.34h-1.34zM22.76 24.1h1.34v1.34h-1.34zM24.1 24.1h1.34v1.34h-1.34zM25.44 24.1h1.34v1.34h-1.34zM26.78 24.1h1.34v1.34h-1.34zM29.46 24.1h1.34v1.34h-1.34zM30.8 24.1h1.34v1.34h-1.34zM33.48 24.1h1.34v1.34h-1.34zM34.81 24.1h1.34v1.34h-1.34zM38.83 24.1h1.34v1.34h-1.34zM40.17 24.1h1.34v1.34h-1.34zM41.51 24.1h1.34v1.34h-1.34zM44.19 24.1h1.34v1.34h-1.34zM48.2 24.1h1.34v1.34h-1.34zM49.54 24.1h1.34v1.34h-1.34zM53.56 24.1h1.34v1.34h-1.34zM1.34 25.44h1.34v1.34h-1.34zM2.68 25.44h1.34v1.34h-1.34zM4.02 25.44h1.34v1.34h-1.34zM10.71 25.44h1.34v1.34h-1.34zM12.05 25.44h1.34v1.34h-1.34zM13.39 25.44h1.34v1.34h-1.34zM17.41 25.44h1.34v1.34h-1.34zM18.75 25.44h1.34v1.34h-1.34zM20.09 25.44h1.34v1.34h-1.34zM21.42 25.44h1.34v1.34h-1.34zM24.1 25.44h1.34v1.34h-1.34zM32.14 25.44h1.34v1.34h-1.34zM33.48 25.44h1.34v1.34h-1.34zM34.81 25.44h1.34v1.34h-1.34zM37.49 25.44h1.34v1.34h-1.34zM38.83 25.44h1.34v1.34h-1.34zM41.51 25.44h1.34v1.34h-1.34zM42.85 25.44h1.34v1.34h-1.34zM44.19 25.44h1.34v1.34h-1.34zM46.87 25.44h1.34v1.34h-1.34zM52.22 25.44h1.34v1.34h-1.34zM53.56 25.44h1.34v1.34h-1.34zM0 26.78h1.34v1.34h-1.34zM1.34 26.78h1.34v1.34h-1.34zM4.02 26.78h1.34v1.34h-1.34zM5.36 26.78h1.34v1.34h-1.34zM6.7 26.78h1.34v1.34h-1.34zM14.73 26.78h1.34v1.34h-1.34zM17.41 26.78h1.34v1.34h-1.34zM20.09 26.78h1.34v1.34h-1.34zM22.76 26.78h1.34v1.34h-1.34zM24.1 26.78h1.34v1.34h-1.34zM25.44 26.78h1.34v1.34h-1.34zM26.78 26.78h1.34v1.34h-1.34zM30.8 26.78h1.34v1.34h-1.34zM32.14 26.78h1.34v1.34h-1.34zM36.15 26.78h1.34v1.34h-1.34zM41.51 26.78h1.34v1.34h-1.34zM42.85 26.78h1.34v1.34h-1.34zM48.2 26.78h1.34v1.34h-1.34zM49.54 26.78h1.34v1.34h-1.34zM50.88 26.78h1.34v1.34h-1.34zM52.22 26.78h1.34v1.34h-1.34zM2.68 28.12h1.34v1.34h-1.34zM5.36 28.12h1.34v1.34h-1.34zM6.7 28.12h1.34v1.34h-1.34zM10.71 28.12h1.34v1.34h-1.34zM14.73 28.12h1.34v1.34h-1.34zM16.07 28.12h1.34v1.34h-1.34zM17.41 28.12h1.34v1.34h-1.34zM18.75 28.12h1.34v1.34h-1.34zM20.09 28.12h1.34v1.34h-1.34zM24.1 28.12h1.34v1.34h-1.34zM25.44 28.12h1.34v1.34h-1.34zM26.78 28.12h1.34v1.34h-1.34zM29.46 28.12h1.34v1.34h-1.34zM30.8 28.12h1.34v1.34h-1.34zM32.14 28.12h1.34v1.34h-1.34zM36.15 28.12h1.34v1.34h-1.34zM37.49 28.12h1.34v1.34h-1.34zM38.83 28.12h1.34v1.34h-1.34zM42.85 28.12h1.34v1.34h-1.34zM44.19 28.12h1.34v1.34h-1.34zM46.87 28.12h1.34v1.34h-1.34zM48.2 28.12h1.34v1.34h-1.34zM49.54 28.12h1.34v1.34h-1.34zM52.22 28.12h1.34v1.34h-1.34zM0 29.46h1.34v1.34h-1.34zM1.34 29.46h1.34v1.34h-1.34zM5.36 29.46h1.34v1.34h-1.34zM6.7 29.46h1.34v1.34h-1.34zM9.37 29.46h1.34v1.34h-1.34zM10.71 29.46h1.34v1.34h-1.34zM13.39 29.46h1.34v1.34h-1.34zM16.07 29.46h1.34v1.34h-1.34zM18.75 29.46h1.34v1.34h-1.34zM20.09 29.46h1.34v1.34h-1.34zM21.42 29.46h1.34v1.34h-1.34zM26.78 29.46h1.34v1.34h-1.34zM29.46 29.46h1.34v1.34h-1.34zM32.14 29.46h1.34v1.34h-1.34zM33.48 29.46h1.34v1.34h-1.34zM37.49 29.46h1.34v1.34h-1.34zM38.83 29.46h1.34v1.34h-1.34zM42.85 29.46h1.34v1.34h-1.34zM44.19 29.46h1.34v1.34h-1.34zM48.2 29.46h1.34v1.34h-1.34zM49.54 29.46h1.34v1.34h-1.34zM52.22 29.46h1.34v1.34h-1.34zM2.68 30.8h1.34v1.34h-1.34zM5.36 30.8h1.34v1.34h-1.34zM6.7 30.8h1.34v1.34h-1.34zM10.71 30.8h1.34v1.34h-1.34zM12.05 30.8h1.34v1.34h-1.34zM13.39 30.8h1.34v1.34h-1.34zM16.07 30.8h1.34v1.34h-1.34zM17.41 30.8h1.34v1.34h-1.34zM18.75 30.8h1.34v1.34h-1.34zM22.76 30.8h1.34v1.34h-1.34zM26.78 30.8h1.34v1.34h-1.34zM29.46 30.8h1.34v1.34h-1.34zM34.81 30.8h1.34v1.34h-1.34zM36.15 30.8h1.34v1.34h-1.34zM38.83 30.8h1.34v1.34h-1.34zM41.51 30.8h1.34v1.34h-1.34zM42.85 30.8h1.34v1.34h-1.34zM44.19 30.8h1.34v1.34h-1.34zM46.87 30.8h1.34v1.34h-1.34zM48.2 30.8h1.34v1.34h-1.34zM52.22 30.8h1.34v1.34h-1.34zM53.56 30.8h1.34v1.34h-1.34zM0 32.14h1.34v1.34h-1.34zM1.34 32.14h1.34v1.34h-1.34zM2.68 32.14h1.34v1.34h-1.34zM4.02 32.14h1.34v1.34h-1.34zM5.36 32.14h1.34v1.34h-1.34zM6.7 32.14h1.34v1.34h-1.34zM9.37 32.14h1.34v1.34h-1.34zM12.05 32.14h1.34v1.34h-1.34zM17.41 32.14h1.34v1.34h-1.34zM20.09 32.14h1.34v1.34h-1.34zM22.76 32.14h1.34v1.34h-1.34zM29.46 32.14h1.34v1.34h-1.34zM32.14 32.14h1.34v1.34h-1.34zM36.15 32.14h1.34v1.34h-1.34zM40.17 32.14h1.34v1.34h-1.34zM41.51 32.14h1.34v1.34h-1.34zM44.19 32.14h1.34v1.34h-1.34zM46.87 32.14h1.34v1.34h-1.34zM49.54 32.14h1.34v1.34h-1.34zM53.56 32.14h1.34v1.34h-1.34zM0 33.48h1.34v1.34h-1.34zM2.68 33.48h1.34v1.34h-1.34zM4.02 33.48h1.34v1.34h-1.34zM5.36 33.48h1.34v1.34h-1.34zM6.7 33.48h1.34v1.34h-1.34zM12.05 33.48h1.34v1.34h-1.34zM14.73 33.48h1.34v1.34h-1.34zM18.75 33.48h1.34v1.34h-1.34zM25.44 33.48h1.34v1.34h-1.34zM29.46 33.48h1.34v1.34h-1.34zM32.14 33.48h1.34v1.34h-1.34zM36.15 33.48h1.34v1.34h-1.34zM38.83 33.48h1.34v1.34h-1.34zM40.17 33.48h1.34v1.34h-1.34zM42.85 33.48h1.34v1.34h-1.34zM45.53 33.48h1.34v1.34h-1.34zM52.22 33.48h1.34v1.34h-1.34zM53.56 33.48h1.34v1.34h-1.34zM0 34.81h1.34v1.34h-1.34zM1.34 34.81h1.34v1.34h-1.34zM4.02 34.81h1.34v1.34h-1.34zM8.03 34.81h1.34v1.34h-1.34zM9.37 34.81h1.34v1.34h-1.34zM12.05 34.81h1.34v1.34h-1.34zM13.39 34.81h1.34v1.34h-1.34zM14.73 34.81h1.34v1.34h-1.34zM16.07 34.81h1.34v1.34h-1.34zM17.41 34.81h1.34v1.34h-1.34zM18.75 34.81h1.34v1.34h-1.34zM22.76 34.81h1.34v1.34h-1.34zM25.44 34.81h1.34v1.34h-1.34zM26.78 34.81h1.34v1.34h-1.34zM29.46 34.81h1.34v1.34h-1.34zM30.8 34.81h1.34v1.34h-1.34zM32.14 34.81h1.34v1.34h-1.34zM37.49 34.81h1.34v1.34h-1.34zM38.83 34.81h1.34v1.34h-1.34zM40.17 34.81h1.34v1.34h-1.34zM44.19 34.81h1.34v1.34h-1.34zM46.87 34.81h1.34v1.34h-1.34zM50.88 34.81h1.34v1.34h-1.34zM53.56 34.81h1.34v1.34h-1.34zM1.34 36.15h1.34v1.34h-1.34zM2.68 36.15h1.34v1.34h-1.34zM4.02 36.15h1.34v1.34h-1.34zM6.7 36.15h1.34v1.34h-1.34zM10.71 36.15h1.34v1.34h-1.34zM12.05 36.15h1.34v1.34h-1.34zM18.75 36.15h1.34v1.34h-1.34zM20.09 36.15h1.34v1.34h-1.34zM21.42 36.15h1.34v1.34h-1.34zM22.76 36.15h1.34v1.34h-1.34zM28.12 36.15h1.34v1.34h-1.34zM32.14 36.15h1.34v1.34h-1.34zM34.81 36.15h1.34v1.34h-1.34zM36.15 36.15h1.34v1.34h-1.34zM37.49 36.15h1.34v1.34h-1.34zM38.83 36.15h1.34v1.34h-1.34zM40.17 36.15h1.34v1.34h-1.34zM41.51 36.15h1.34v1.34h-1.34zM48.2 36.15h1.34v1.34h-1.34zM50.88 36.15h1.34v1.34h-1.34zM0 37.49h1.34v1.34h-1.34zM4.02 37.49h1.34v1.34h-1.34zM6.7 37.49h1.34v1.34h-1.34zM8.03 37.49h1.34v1.34h-1.34zM9.37 37.49h1.34v1.34h-1.34zM14.73 37.49h1.34v1.34h-1.34zM17.41 37.49h1.34v1.34h-1.34zM18.75 37.49h1.34v1.34h-1.34zM26.78 37.49h1.34v1.34h-1.34zM32.14 37.49h1.34v1.34h-1.34zM36.15 37.49h1.34v1.34h-1.34zM37.49 37.49h1.34v1.34h-1.34zM40.17 37.49h1.34v1.34h-1.34zM42.85 37.49h1.34v1.34h-1.34zM44.19 37.49h1.34v1.34h-1.34zM45.53 37.49h1.34v1.34h-1.34zM48.2 37.49h1.34v1.34h-1.34zM49.54 37.49h1.34v1.34h-1.34zM50.88 37.49h1.34v1.34h-1.34zM52.22 37.49h1.34v1.34h-1.34zM4.02 38.83h1.34v1.34h-1.34zM6.7 38.83h1.34v1.34h-1.34zM12.05 38.83h1.34v1.34h-1.34zM17.41 38.83h1.34v1.34h-1.34zM18.75 38.83h1.34v1.34h-1.34zM20.09 38.83h1.34v1.34h-1.34zM21.42 38.83h1.34v1.34h-1.34zM29.46 38.83h1.34v1.34h-1.34zM30.8 38.83h1.34v1.34h-1.34zM32.14 38.83h1.34v1.34h-1.34zM34.81 38.83h1.34v1.34h-1.34zM36.15 38.83h1.34v1.34h-1.34zM37.49 38.83h1.34v1.34h-1.34zM38.83 38.83h1.34v1.34h-1.34zM40.17 38.83h1.34v1.34h-1.34zM41.51 38.83h1.34v1.34h-1.34zM44.19 38.83h1.34v1.34h-1.34zM45.53 38.83h1.34v1.34h-1.34zM52.22 38.83h1.34v1.34h-1.34zM53.56 38.83h1.34v1.34h-1.34zM0 40.17h1.34v1.34h-1.34zM2.68 40.17h1.34v1.34h-1.34zM6.7 40.17h1.34v1.34h-1.34zM9.37 40.17h1.34v1.34h-1.34zM12.05 40.17h1.34v1.34h-1.34zM13.39 40.17h1.34v1.34h-1.34zM14.73 40.17h1.34v1.34h-1.34zM18.75 40.17h1.34v1.34h-1.34zM20.09 40.17h1.34v1.34h-1.34zM21.42 40.17h1.34v1.34h-1.34zM24.1 40.17h1.34v1.34h-1.34zM25.44 40.17h1.34v1.34h-1.34zM26.78 40.17h1.34v1.34h-1.34zM29.46 40.17h1.34v1.34h-1.34zM32.14 40.17h1.34v1.34h-1.34zM33.48 40.17h1.34v1.34h-1.34zM36.15 40.17h1.34v1.34h-1.34zM37.49 40.17h1.34v1.34h-1.34zM40.17 40.17h1.34v1.34h-1.34zM41.51 40.17h1.34v1.34h-1.34zM42.85 40.17h1.34v1.34h-1.34zM44.19 40.17h1.34v1.34h-1.34zM45.53 40.17h1.34v1.34h-1.34zM46.87 40.17h1.34v1.34h-1.34zM48.2 40.17h1.34v1.34h-1.34zM49.54 40.17h1.34v1.34h-1.34zM52.22 40.17h1.34v1.34h-1.34zM0 41.51h1.34v1.34h-1.34zM1.34 41.51h1.34v1.34h-1.34zM2.68 41.51h1.34v1.34h-1.34zM6.7 41.51h1.34v1.34h-1.34zM9.37 41.51h1.34v1.34h-1.34zM10.71 41.51h1.34v1.34h-1.34zM17.41 41.51h1.34v1.34h-1.34zM18.75 41.51h1.34v1.34h-1.34zM20.09 41.51h1.34v1.34h-1.34zM25.44 41.51h1.34v1.34h-1.34zM26.78 41.51h1.34v1.34h-1.34zM30.8 41.51h1.34v1.34h-1.34zM32.14 41.51h1.34v1.34h-1.34zM34.81 41.51h1.34v1.34h-1.34zM36.15 41.51h1.34v1.34h-1.34zM37.49 41.51h1.34v1.34h-1.34zM40.17 41.51h1.34v1.34h-1.34zM45.53 41.51h1.34v1.34h-1.34zM48.2 41.51h1.34v1.34h-1.34zM49.54 41.51h1.34v1.34h-1.34zM50.88 41.51h1.34v1.34h-1.34zM0 42.85h1.34v1.34h-1.34zM2.68 42.85h1.34v1.34h-1.34zM4.02 42.85h1.34v1.34h-1.34zM9.37 42.85h1.34v1.34h-1.34zM10.71 42.85h1.34v1.34h-1.34zM13.39 42.85h1.34v1.34h-1.34zM14.73 42.85h1.34v1.34h-1.34zM16.07 42.85h1.34v1.34h-1.34zM17.41 42.85h1.34v1.34h-1.34zM18.75 42.85h1.34v1.34h-1.34zM25.44 42.85h1.34v1.34h-1.34zM26.78 42.85h1.34v1.34h-1.34zM29.46 42.85h1.34v1.34h-1.34zM33.48 42.85h1.34v1.34h-1.34zM37.49 42.85h1.34v1.34h-1.34zM38.83 42.85h1.34v1.34h-1.34zM40.17 42.85h1.34v1.34h-1.34zM42.85 42.85h1.34v1.34h-1.34zM45.53 42.85h1.34v1.34h-1.34zM49.54 42.85h1.34v1.34h-1.34zM50.88 42.85h1.34v1.34h-1.34zM53.56 42.85h1.34v1.34h-1.34zM10.71 44.19h1.34v1.34h-1.34zM14.73 44.19h1.34v1.34h-1.34zM18.75 44.19h1.34v1.34h-1.34zM20.09 44.19h1.34v1.34h-1.34zM22.76 44.19h1.34v1.34h-1.34zM25.44 44.19h1.34v1.34h-1.34zM30.8 44.19h1.34v1.34h-1.34zM40.17 44.19h1.34v1.34h-1.34zM45.53 44.19h1.34v1.34h-1.34zM46.87 44.19h1.34v1.34h-1.34zM49.54 44.19h1.34v1.34h-1.34zM52.22 44.19h1.34v1.34h-1.34zM53.56 44.19h1.34v1.34h-1.34zM0 45.53h1.34v1.34h-1.34zM1.34 45.53h1.34v1.34h-1.34zM2.68 45.53h1.34v1.34h-1.34zM4.02 45.53h1.34v1.34h-1.34zM5.36 45.53h1.34v1.34h-1.34zM6.7 45.53h1.34v1.34h-1.34zM8.03 45.53h1.34v1.34h-1.34zM10.71 45.53h1.34v1.34h-1.34zM16.07 45.53h1.34v1.34h-1.34zM18.75 45.53h1.34v1.34h-1.34zM20.09 45.53h1.34v1.34h-1.34zM21.42 45.53h1.34v1.34h-1.34zM26.78 45.53h1.34v1.34h-1.34zM29.46 45.53h1.34v1.34h-1.34zM32.14 45.53h1.34v1.34h-1.34zM37.49 45.53h1.34v1.34h-1.34zM38.83 45.53h1.34v1.34h-1.34zM40.17 45.53h1.34v1.34h-1.34zM41.51 45.53h1.34v1.34h-1.34zM42.85 45.53h1.34v1.34h-1.34zM44.19 45.53h1.34v1.34h-1.34zM45.53 45.53h1.34v1.34h-1.34zM46.87 45.53h1.34v1.34h-1.34zM48.2 45.53h1.34v1.34h-1.34zM49.54 45.53h1.34v1.34h-1.34zM50.88 45.53h1.34v1.34h-1.34zM52.22 45.53h1.34v1.34h-1.34zM53.56 45.53h1.34v1.34h-1.34zM0 46.87h1.34v1.34h-1.34zM8.03 46.87h1.34v1.34h-1.34zM10.71 46.87h1.34v1.34h-1.34zM14.73 46.87h1.34v1.34h-1.34zM20.09 46.87h1.34v1.34h-1.34zM24.1 46.87h1.34v1.34h-1.34zM25.44 46.87h1.34v1.34h-1.34zM29.46 46.87h1.34v1.34h-1.34zM30.8 46.87h1.34v1.34h-1.34zM32.14 46.87h1.34v1.34h-1.34zM33.48 46.87h1.34v1.34h-1.34zM36.15 46.87h1.34v1.34h-1.34zM37.49 46.87h1.34v1.34h-1.34zM41.51 46.87h1.34v1.34h-1.34zM52.22 46.87h1.34v1.34h-1.34zM0 48.2h1.34v1.34h-1.34zM2.68 48.2h1.34v1.34h-1.34zM4.02 48.2h1.34v1.34h-1.34zM5.36 48.2h1.34v1.34h-1.34zM8.03 48.2h1.34v1.34h-1.34zM10.71 48.2h1.34v1.34h-1.34zM12.05 48.2h1.34v1.34h-1.34zM13.39 48.2h1.34v1.34h-1.34zM14.73 48.2h1.34v1.34h-1.34zM16.07 48.2h1.34v1.34h-1.34zM17.41 48.2h1.34v1.34h-1.34zM21.42 48.2h1.34v1.34h-1.34zM24.1 48.2h1.34v1.34h-1.34zM29.46 48.2h1.34v1.34h-1.34zM30.8 48.2h1.34v1.34h-1.34zM33.48 48.2h1.34v1.34h-1.34zM37.49 48.2h1.34v1.34h-1.34zM42.85 48.2h1.34v1.34h-1.34zM46.87 48.2h1.34v1.34h-1.34zM49.54 48.2h1.34v1.34h-1.34zM53.56 48.2h1.34v1.34h-1.34zM0 49.54h1.34v1.34h-1.34zM2.68 49.54h1.34v1.34h-1.34zM4.02 49.54h1.34v1.34h-1.34zM5.36 49.54h1.34v1.34h-1.34zM8.03 49.54h1.34v1.34h-1.34zM13.39 49.54h1.34v1.34h-1.34zM16.07 49.54h1.34v1.34h-1.34zM18.75 49.54h1.34v1.34h-1.34zM25.44 49.54h1.34v1.34h-1.34zM26.78 49.54h1.34v1.34h-1.34zM28.12 49.54h1.34v1.34h-1.34zM33.48 49.54h1.34v1.34h-1.34zM38.83 49.54h1.34v1.34h-1.34zM40.17 49.54h1.34v1.34h-1.34zM41.51 49.54h1.34v1.34h-1.34zM42.85 49.54h1.34v1.34h-1.34zM0 50.88h1.34v1.34h-1.34zM2.68 50.88h1.34v1.34h-1.34zM4.02 50.88h1.34v1.34h-1.34zM5.36 50.88h1.34v1.34h-1.34zM8.03 50.88h1.34v1.34h-1.34zM10.71 50.88h1.34v1.34h-1.34zM12.05 50.88h1.34v1.34h-1.34zM17.41 50.88h1.34v1.34h-1.34zM22.76 50.88h1.34v1.34h-1.34zM24.1 50.88h1.34v1.34h-1.34zM25.44 50.88h1.34v1.34h-1.34zM26.78 50.88h1.34v1.34h-1.34zM28.12 50.88h1.34v1.34h-1.34zM32.14 50.88h1.34v1.34h-1.34zM34.81 50.88h1.34v1.34h-1.34zM36.15 50.88h1.34v1.34h-1.34zM41.51 50.88h1.34v1.34h-1.34zM42.85 50.88h1.34v1.34h-1.34zM44.19 50.88h1.34v1.34h-1.34zM49.54 50.88h1.34v1.34h-1.34zM50.88 50.88h1.34v1.34h-1.34zM52.22 50.88h1.34v1.34h-1.34zM0 52.22h1.34v1.34h-1.34zM8.03 52.22h1.34v1.34h-1.34zM12.05 52.22h1.34v1.34h-1.34zM13.39 52.22h1.34v1.34h-1.34zM16.07 52.22h1.34v1.34h-1.34zM18.75 52.22h1.34v1.34h-1.34zM20.09 52.22h1.34v1.34h-1.34zM26.78 52.22h1.34v1.34h-1.34zM30.8 52.22h1.34v1.34h-1.34zM33.48 52.22h1.34v1.34h-1.34zM37.49 52.22h1.34v1.34h-1.34zM38.83 52.22h1.34v1.34h-1.34zM42.85 52.22h1.34v1.34h-1.34zM44.19 52.22h1.34v1.34h-1.34zM46.87 52.22h1.34v1.34h-1.34zM49.54 52.22h1.34v1.34h-1.34zM50.88 52.22h1.34v1.34h-1.34zM52.22 52.22h1.34v1.34h-1.34zM0 53.56h1.34v1.34h-1.34zM1.34 53.56h1.34v1.34h-1.34zM2.68 53.56h1.34v1.34h-1.34zM4.02 53.56h1.34v1.34h-1.34zM5.36 53.56h1.34v1.34h-1.34zM6.7 53.56h1.34v1.34h-1.34zM8.03 53.56h1.34v1.34h-1.34zM10.71 53.56h1.34v1.34h-1.34zM17.41 53.56h1.34v1.34h-1.34zM18.75 53.56h1.34v1.34h-1.34zM24.1 53.56h1.34v1.34h-1.34zM30.8 53.56h1.34v1.34h-1.34zM32.14 53.56h1.34v1.34h-1.34zM34.81 53.56h1.34v1.34h-1.34zM41.51 53.56h1.34v1.34h-1.34zM42.85 53.56h1.34v1.34h-1.34zM44.19 53.56h1.34v1.34h-1.34zM45.53 53.56h1.34v1.34h-1.34zM50.88 53.56h1.34v1.34h-1.34z" fill="#111"/>
<circle cx="27.8" cy="27.8" r="11.2" fill="#fff"/>
<circle cx="27.8" cy="27.8" r="9.2" fill="#111"/>
<path d="M22.3 24.6 Q27.8 25.7 33.4 24.5 C33.4 29.6 31.1 33.3 27.8 35.7 C24.5 33.3 22.3 29.6 22.3 24.6 Z" fill="#fff"/>
<rect x="26.8" y="24.3" width="2" height="7" fill="#111"/>
<circle cx="27.8" cy="22.8" r="2" fill="#fff"/>
</svg>
</div><script>
(function(){var D=[["t0",662,0.0669,0.0952,49.6,0,0,26.4,64.2],["t1",431.5,0.0010,0.0073,50.9,0,0,9,88.4],["t2",449,0.0645,0.0444,51,0,0,9,101.3],["t3",439,0.0420,0.0645,50.9,0,0,9,114.5],["t4",395,0.0024,0.0444,519.5,0,0,9,88.4],["t5",439,0.0664,0.0000,519.5,0,0,9,101.3],["t6",181.5,0.0425,0.0913,519.5,0,0,9,114.5],["t7",635.5,0.0820,0.0649,50.2,0,0,17.6,142.8],["t8",76,0.0669,0.0410,250.6,0,0,12.4,173.7],["t9",62,0.0249,0.0410,498.3,0,0,12.4,173.4],["t10",85,0.0669,0.0410,688.2,0,0,12.4,173.8],["t11",70,0.0410,0.0708,864.6,0,0,12.4,167.5],["t12",85.3,0.0391,0.0410,864.6,0,0,12.4,178.9],["t13",39.6,0.0068,0.0342,55.6,0,0,11.6,281],["t14",63.4,0.0820,0.0020,180.2,0,1,7.9,289.3],["t15",84.2,0.0508,0.0361,207.6,0,1,7.9,289.3],["t16",68.2,0.0923,0.0645,229.4,0,1,7.9,289.3],["t17",83.5,0.0620,0.0620,240.6,0,1,7.9,289.3],["t18",64.7,0.0820,0.0020,257.6,0,1,7.9,289.3],["t19",70.3,0.0151,0.0361,269,0,1,7.9,289.3],["t20",29,0.0020,0.0000,290.9,0,1,7.9,289.3],["t21",58.3,0.0508,0.0073,313.6,0,1,7.9,289.3],["t22",67.8,0.0425,0.0073,325.3,0,1,7.9,289.3],["t23",94.7,0.0474,0.0669,340.9,0,1,7.9,289.3],["t24",84.9,0.0151,0.0444,348.6,0,1,5.6,289.3],["t25",91.9,0.0151,0.0620,356.9,0,1,5.6,289.3],["t26",86.3,0.0508,0.0620,372.2,0,1,7.9,289.3],["t27",13.3,0.0674,-0.0015,383.4,0,1,7.9,289.3],["t28",39.2,0.0020,0.0659,408.1,0,1,7.9,289.3],["t29",82.8,0.0820,0.0649,636.3,0,1,7.9,289.3],["t30",11.7,0.0664,0.0649,647.4,0,1,7.9,289.3],["t31",97.4,0.0820,0.0020,665.1,0,1,7.9,289.3],["t32",90.5,0.0664,0.0420,675.9,0,1,7.9,289.3],["t33",66.1,0.0771,0.0166,694,0,1,7.9,289.3],["t34",66.8,0.0664,0.0361,705.8,0,1,7.9,289.3],["t35",48.7,0.0820,0.0361,728.1,0,1,7.9,289.3],["t36",73.8,0.0923,0.0166,755.5,0,1,7.9,289.3],["t37",55.7,0.0508,-0.0015,777.7,0,1,7.9,289.3],["t38",74.5,0.0669,0.0444,789.5,0,1,7.9,289.3],["t39",59.2,0.0225,0.0645,812.5,0,1,7.9,289.3],["t40",57.5,0.0508,0.0361,841,0,1,7.9,289.3],["t41",64.4,0.0820,0.0166,868.5,0,1,7.9,289.3],["t42",67.3,0.0508,0.0361,896.9,0,1,7.9,289.3],["t43",91.8,0.0820,0.0649,917.4,0,1,7.9,289.3],["t44",78.1,0.0425,-0.0015,929.2,0,1,7.9,289.3],["t45",101.6,0.0020,0.0361,953.7,0,1,7.9,289.3],["t46",99.6,0.0620,0.0620,960.5,0,1,6,289.3],["t47",48.7,0.0508,0.0474,55.6,0,0,10.6,308.4],["t48",25.7,0.0820,0.0020,55.6,0,0,10.6,329.5],["t49",24.7,0.0820,0.0527,55.6,0,0,10.6,354.3],["t50",14.8,0.0820,0.0420,55.6,0,0,10.6,376.3],["t51",19.8,0.0820,0.0044,55.6,0,0,10.6,398.8],["t52",15.4,0.0923,0.0044,55.6,0,0,10.6,422.8],["t53",40.7,0.0923,0.0000,55.6,0,0,10.6,443.8],["t54",101.5,0.0820,0.0220,54.1,0,0,10.6,463.8],["t55",77.5,0.0820,0.0527,55.8,0,0,10.6,484.8],["t56",24.7,0.0820,0.0464,55.8,0,0,10.6,504.8],["t57",29.5,0.0820,0.0107,55.8,0,0,10.6,523.1],["t58",96.8,0.0820,0.0488,55.4,0,0,10.6,545.7],["t59",36.9,0.0820,0.0439,55.6,0,0,10.6,567.7],["t60",18.4,0.0820,0.0044,55.6,0,0,10.6,588.5],["t61",36.9,0.0225,0.0645,55.6,0,0,10.6,608.9],["t62",42.7,0.0044,0.0000,55.6,0,0,10.6,630.7],["t63",28.9,0.0317,0.0166,55.6,0,0,10.6,654.7],["t64",634,0.0820,0.0913,168.8,0,0,10.6,307.9],["t65",228.8,0.0020,0.0361,168.5,0,0,10.6,443.6],["t66",700.5,0.0820,0.0913,168.9,0,0,10.6,567.6],["t67",497.8,0.0225,0.0020,168.9,0,0,10.6,608.9],["t68",105,0.0620,0.0620,670.5,0,0,7.6,608.9],["t69",445.8,0.0508,0.0000,168.9,0,0,10.6,630.6],["t70",287,0.0620,0.0620,618.2,0,0,7.6,630.6],["t71",88.1,0.0020,0.0420,521.35,1,0,8.2,323.2],["t72",82.8,-0.0015,0.0645,521.5,1,0,8.2,332],["t73",184.1,0.0820,0.0361,521.25,1,0,8.2,346.9],["t74",170.7,0.0142,0.0493,520.95,1,0,8.2,356.1],["t75",88.6,0.0820,0.0898,520.1,1,0,8.2,392.6],["t76",118.6,0.0645,0.0361,521.2,1,0,8.2,401.8],["t77",144.9,0.0820,0.0166,520.95,1,0,8.2,416.2],["t78",123.3,0.0278,0.0645,520.95,1,0,8.2,425.3],["t79",120.1,0.0820,0.0361,520.85,1,0,8.2,483.5],["t80",105.3,0.0820,0.0166,521.35,1,0,8.2,499],["t81",94.4,0.0762,0.0444,521.5,1,0,8.2,507.6],["t82",124,0.0820,0.0898,521.3,1,0,8.2,540.4],["t83",132.6,0.0645,0.0361,521.3,1,0,8.2,548.4],["t84",150.9,0.0820,0.0898,521.15,1,0,8.2,583.1],["t85",132.6,0.0645,0.0361,521.3,1,0,8.2,592.1],["t86",129.4,0.0820,0.0361,521.2,1,0,8.2,649.1],["t87",114.3,-0.0015,0.0645,521.15,1,0,8.2,656.6],["t88",0,0.0229,0.0361,232.3,1,0,6.8,503],["t90",23.2,0.0669,0.0391,50.3,0,0,7,677],["t91",478.2,0.0762,-0.0015,86.8,0,0,7.3,673.7],["t92",506.3,0.0503,0.0913,86.8,0,0,7.3,681.9],["t93",243.7,0.0381,0.0913,86.8,0,0,7.3,690.1],["t94",302.4,0.0229,0.0913,86.8,0,0,7.3,698.3],["t95",296.6,0.0400,0.0913,86.8,0,0,7.3,706.5],["t96",245.7,0.0508,0.0913,86.8,0,0,7.3,714.7],["t97",97.4,0.0669,0.0688,83.4,0,0,22.6,744],["t98",30.4,0.0420,0.0645,181.7,0,0,22.6,744],["t99",80,0.0669,0.0391,83,0,0,8.3,762.4],["t100",85.4,-0.0015,0.0645,169,0,0,9.4,762.4],["t102",60.3,0.0669,0.0273,269.5,0,0,8.3,762.4],["t103",119.6,-0.0015,0.0645,335.9,0,0,9.4,762.4],["t104",162.3,-0.0015,-0.0015,743.4,0,0,9.6,748.9],["t105",112.2,0.0923,0.0620,793.5,0,0,9.6,764.5],["t106",51.2,0.0454,0.0400,916.5,0,0,9.6,776.4]];
for(var i=0;i<D.length;i++){var d=D[i],e=document.getElementById(d[0]);if(!e)continue;
var fs=d[7];e.style.transform='none';var nat=e.getBoundingClientRect().width;if(!(nat>0))continue;
var ink=nat-(d[2]+d[3])*fs;var s=d[1]>0?d[1]/ink:1;if(!(s>0.3&&s<3))continue;
if(d[6]){e.style.top=(d[8]+d[2]*fs*s)+'px';e.style.transform='rotate(-90deg) scaleX('+s+')';}
else{var l=d[5]?d[4]-ink*s/2-d[2]*fs*s:d[4]-d[2]*fs*s;e.style.left=l+'px';e.style.transform=(s!==1)?'scaleX('+s+')':'none';}}
})();
</script></body></html>
